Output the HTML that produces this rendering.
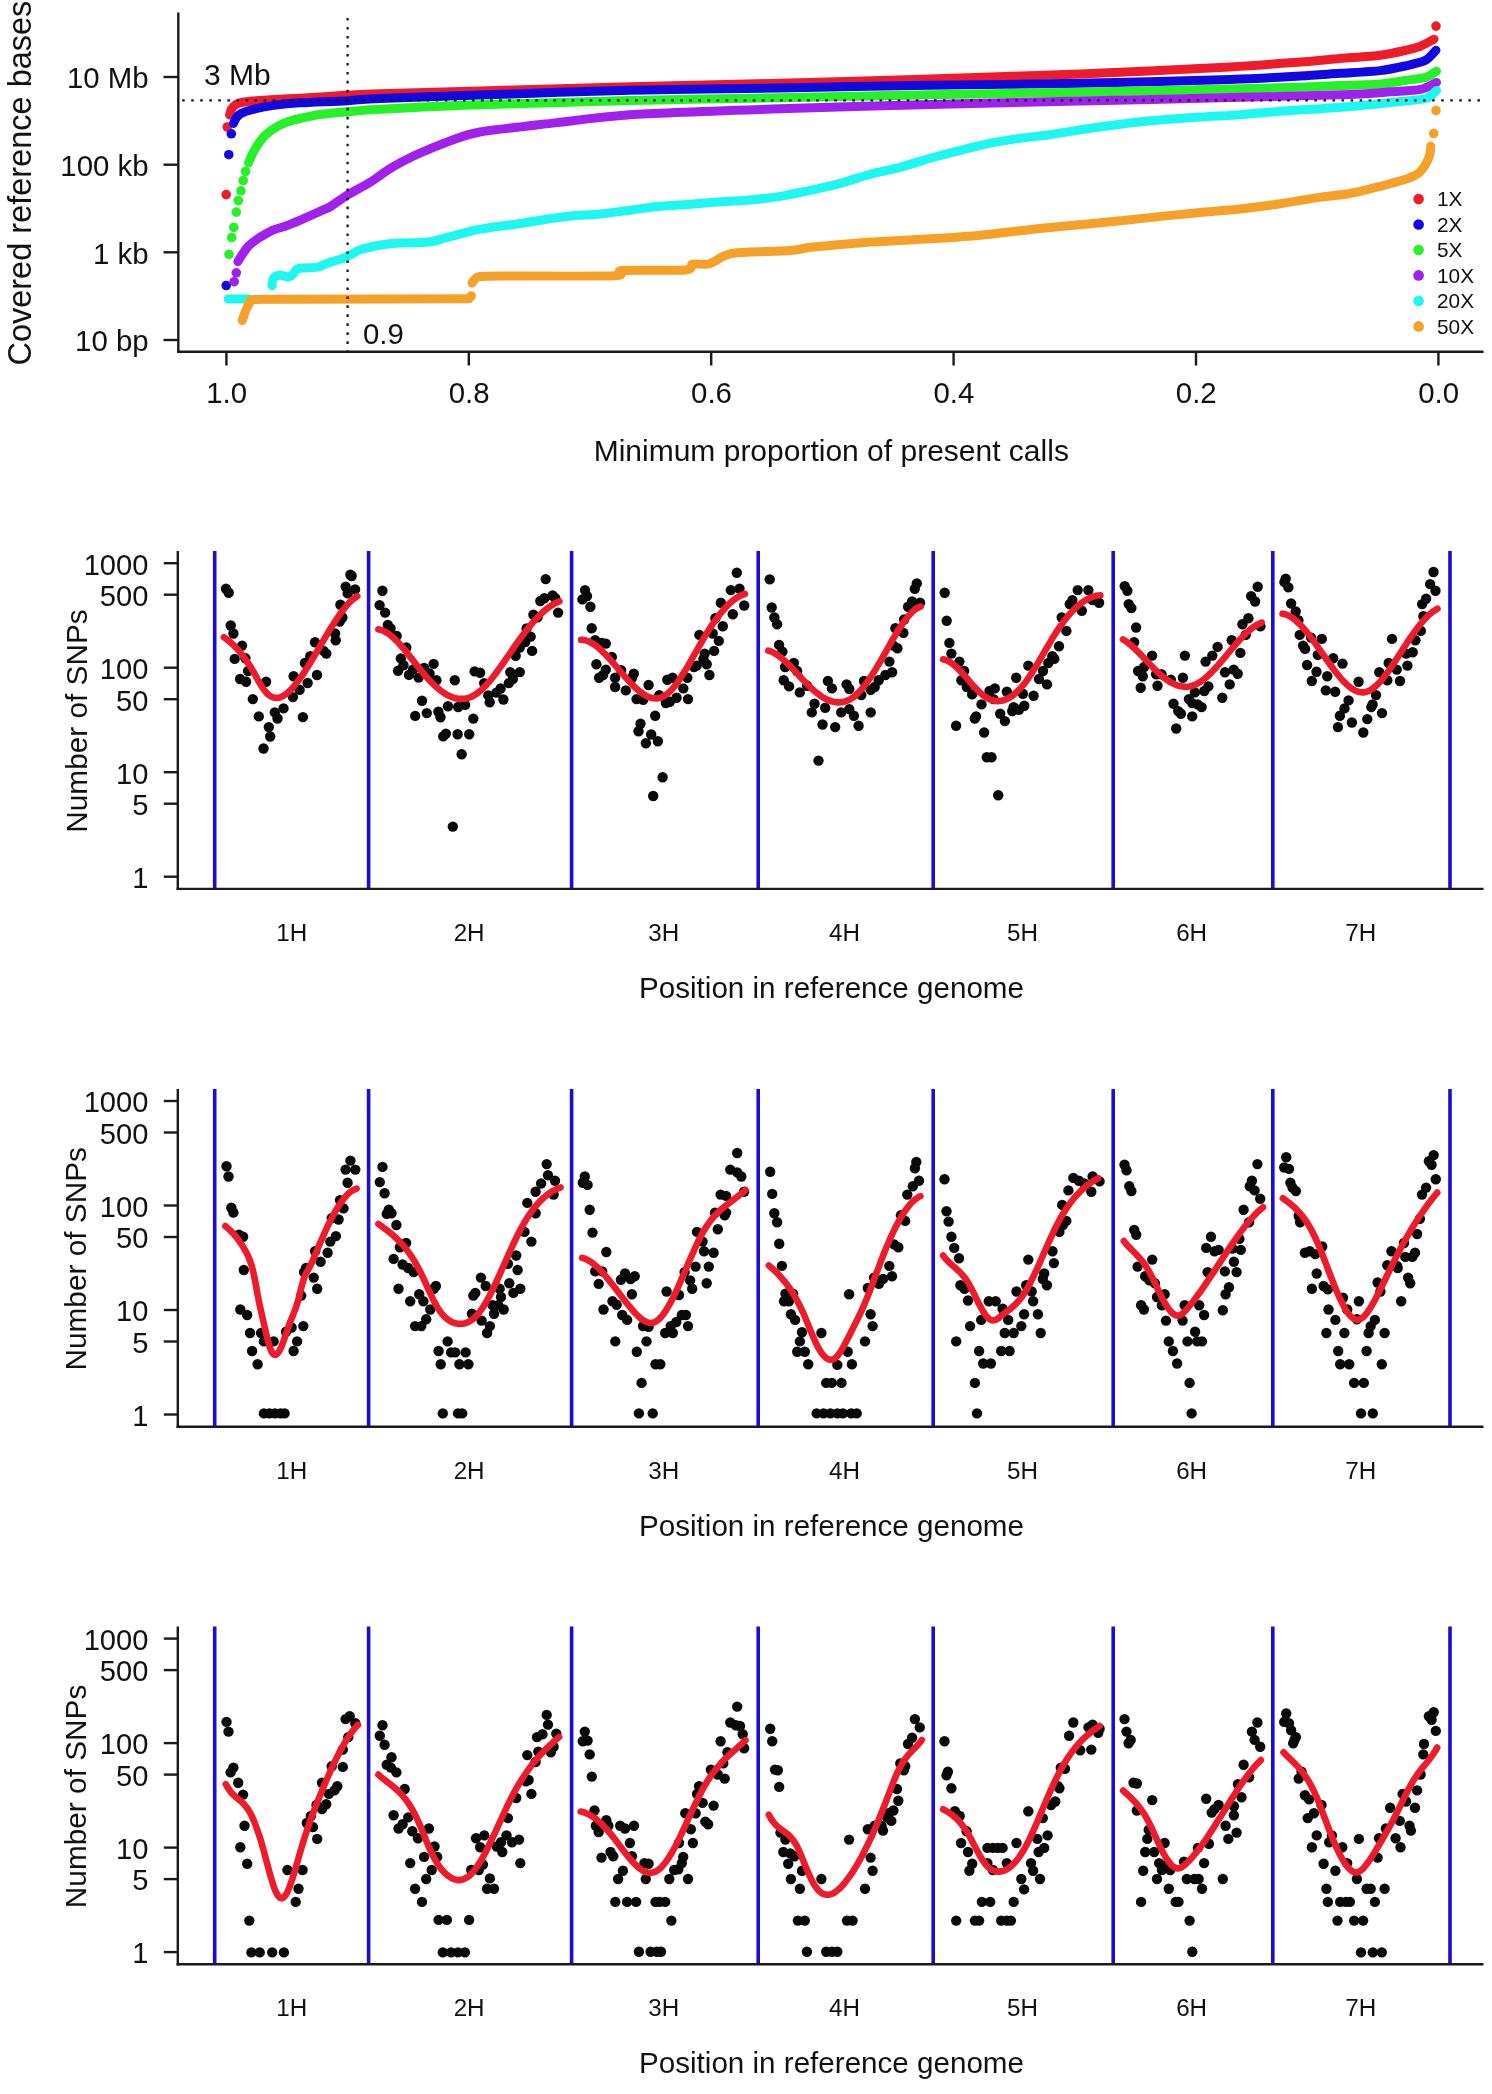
<!DOCTYPE html>
<html><head><meta charset="utf-8"><style>
html,body{margin:0;padding:0;background:#fff;}
svg{display:block;filter:blur(0.5px);}
text{font-family:"Liberation Sans", sans-serif;}
</style></head><body>
<svg xmlns="http://www.w3.org/2000/svg" width="1492" height="2094" viewBox="0 0 1492 2094">
<rect width="1492" height="2094" fill="#fff"/>
<path d="M229.5,115 C229.8,114.2 230.6,110.4 231.5,109 C232.4,107.6 234.7,105.4 236,104.5 C237.3,103.6 239.5,102.9 241.4,102.5 C243.3,102.1 247.5,101.6 250,101.3 C252.5,101 256.2,100.8 260.2,100.5 C264.2,100.2 274.7,99.5 280,99.2 C285.3,98.9 291,98.8 300,98.3 C309,97.8 336.9,95.7 347.6,95.1 C358.3,94.5 362.3,94.2 380,93.7 C397.7,93.2 446.7,91.9 480,91 C513.3,90.1 590,87.7 630,86.7 C670,85.7 740,84.2 780,83.2 C820,82.2 890,80.1 930,78.9 C970,77.7 1040,75.6 1080,74 C1120,72.4 1200.7,68.5 1230,66.9 C1259.3,65.3 1285.3,63.1 1300,62 C1314.7,60.9 1329.3,59.4 1340,58.5 C1350.7,57.6 1371.3,56.3 1380,55.2 C1388.7,54.1 1399.6,51.7 1405,50.5 C1410.4,49.3 1416.5,47.7 1420.4,46.2 C1424.3,44.7 1432.2,40.1 1434,39.2" fill="none" stroke="#ee1c2a" stroke-width="9" stroke-linejoin="round" stroke-linecap="round"/>
<g fill="#ee1c2a">
<circle cx="226.2" cy="194.6" r="4.8"/>
<circle cx="227.2" cy="127" r="4.8"/>
<circle cx="1436" cy="26.1" r="4.8"/>
</g>
<path d="M233.4,123.5 C233.8,122.7 235.4,118.9 236.5,117.5 C237.6,116.1 239.3,114.3 241.4,113.2 C243.5,112.1 247.9,110.6 252.2,109.6 C256.5,108.6 267.2,106.3 273.6,105.4 C280,104.5 290.1,103.4 300,102.8 C309.9,102.2 336.9,101.3 347.6,100.7 C358.3,100.1 362.3,99.1 380,98.4 C397.7,97.7 446.7,96.2 480,95.1 C513.3,94 590,91.1 630,90.2 C670,89.3 740,88.7 780,88 C820,87.3 890,85.9 930,85.3 C970,84.7 1040,84.1 1080,83.3 C1120,82.5 1200.7,80.4 1230,79.4 C1259.3,78.4 1285.3,76.8 1300,76 C1314.7,75.2 1329.3,74 1340,73.3 C1350.7,72.6 1371.3,71.6 1380,70.6 C1388.7,69.6 1398.9,67.4 1405,66 C1411.1,64.6 1421.4,62.4 1425.5,60.3 C1429.6,58.2 1434.6,51.5 1436,50.2" fill="none" stroke="#1408e0" stroke-width="9" stroke-linejoin="round" stroke-linecap="round"/>
<g fill="#1408e0">
<circle cx="226.2" cy="285.5" r="4.8"/>
<circle cx="228.8" cy="154.7" r="4.8"/>
<circle cx="231.3" cy="133.8" r="4.8"/>
</g>
<path d="M248.5,163 C248.9,162.1 250.7,157.8 251.5,156 C252.3,154.2 253.8,151.2 254.8,149.5 C255.8,147.8 257.7,144.8 259,143 C260.3,141.2 262.5,137.9 264.5,136 C266.5,134.1 271,130.4 274,128.5 C277,126.6 283.5,123.3 287,122 C290.5,120.7 295.6,119.5 300,118.5 C304.4,117.5 313.7,115.4 320,114.5 C326.3,113.6 339.6,112.4 347.6,111.7 C355.6,111 362.3,110.1 380,109.2 C397.7,108.3 446.7,105.9 480,104.8 C513.3,103.7 590,101.5 630,100.6 C670,99.7 740,98.5 780,97.7 C820,96.9 890,95.4 930,94.7 C970,94 1040,93 1080,92.2 C1120,91.4 1200.7,89.7 1230,89 C1259.3,88.3 1285.3,87.8 1300,87.3 C1314.7,86.8 1329.3,86 1340,85.6 C1350.7,85.2 1371.3,84.8 1380,84.1 C1388.7,83.4 1398.9,81.4 1405,80.5 C1411.1,79.6 1421.3,78.6 1425.5,77.4 C1429.7,76.2 1435,72.1 1436.5,71.3" fill="none" stroke="#26f026" stroke-width="9" stroke-linejoin="round" stroke-linecap="round"/>
<g fill="#26f026">
<circle cx="229" cy="254.3" r="4.8"/>
<circle cx="231.8" cy="237.5" r="4.8"/>
<circle cx="233.8" cy="227.4" r="4.8"/>
<circle cx="236.3" cy="212.1" r="4.8"/>
<circle cx="238.3" cy="200.5" r="4.8"/>
<circle cx="241" cy="190.8" r="4.8"/>
<circle cx="243.2" cy="180.5" r="4.8"/>
<circle cx="245.5" cy="171.5" r="4.8"/>
</g>
<path d="M237.9,261.6 C238.6,260.4 242.1,254.7 243.5,252.7 C244.9,250.7 246.5,248.1 248.3,246.3 C250.1,244.5 254.9,240.7 257.2,239.1 C259.5,237.5 262.8,235.5 265.2,234.2 C267.6,232.9 272.2,230.5 274.9,229.4 C277.6,228.3 282.8,227.1 285.3,226.2 C287.8,225.3 290.7,224.1 293.4,223 C296.1,221.9 301.7,219.5 305.4,217.8 C309.1,216.1 318.2,212.1 321.5,210.6 C324.8,209.1 326.6,208.9 330,206.8 C333.4,204.7 342,198.4 347.3,195.1 C352.6,191.8 364.3,185.8 370,182.3 C375.7,178.8 384.7,171.9 390,168.6 C395.3,165.3 404.7,160.3 410,157.7 C415.3,155.1 424.7,151.1 430,148.9 C435.3,146.7 443.3,143.2 450,140.9 C456.7,138.6 466,134.4 480,132 C494,129.6 535,125.2 555,122.9 C575,120.6 600,116.6 630,114.7 C660,112.8 740,110.2 780,108.8 C820,107.4 890,105.5 930,104.5 C970,103.5 1040,101.9 1080,101 C1120,100.1 1194,98.5 1230,97.6 C1266,96.7 1328.6,95.3 1350,94.5 C1371.4,93.7 1380.9,92.5 1390.3,91.8 C1399.7,91.1 1414.2,90.7 1420.4,89.4 C1426.6,88.1 1434.4,83.3 1436.5,82.4" fill="none" stroke="#a020ec" stroke-width="9" stroke-linejoin="round" stroke-linecap="round"/>
<g fill="#a020ec">
<circle cx="234.2" cy="281.7" r="4.8"/>
<circle cx="236.3" cy="272.8" r="4.8"/>
</g>
<polyline points="228.2,299 249,299" fill="none" stroke="#1cf8f0" stroke-width="9" stroke-linejoin="round" stroke-linecap="round"/>
<path d="M272,285.7 C272.2,284.7 272.3,279.9 273.3,278.5 C274.3,277.1 277.6,275.5 279.7,275.3 C281.8,275.1 287.5,277.1 289.3,276.9 C291.1,276.7 292.3,274.7 293.4,273.6 C294.5,272.5 295.8,269.5 297.4,268.8 C299,268.1 302.7,268.2 305.4,268 C308.1,267.8 314.8,267.7 317.5,267.2 C320.2,266.7 322.8,265 325.5,264 C328.2,263 335,260.9 337.6,260 C340.2,259.1 343.1,258.4 345,257.6 C346.9,256.8 349.9,255.1 352,254 C354.1,252.9 357.1,250.7 361,249.5 C364.9,248.3 375.8,245.9 381,245 C386.2,244.1 394.8,243.3 400,243 C405.2,242.7 415.7,242.7 420,242.5 C424.3,242.3 428,242.3 432,241.5 C436,240.7 443.6,238.2 450,236.6 C456.4,235 471.5,230.9 480.2,229.2 C488.9,227.5 507.3,225.4 515.3,224.2 C523.3,223 533.1,221.3 540.5,220.2 C547.9,219.1 562.7,216.9 570.6,216.1 C578.5,215.3 592.1,214.8 600,214 C607.9,213.2 622.2,211.2 630.2,210.2 C638.2,209.2 652.3,207 660.3,206.2 C668.3,205.4 682.5,204.8 690.5,204.2 C698.5,203.6 712.7,202.3 720.6,201.7 C728.5,201.1 742.1,200.7 750,200 C757.9,199.3 772.2,197.7 780.2,196.4 C788.2,195.1 802.3,192 810.3,190.3 C818.3,188.6 832.5,185.4 840.5,183.3 C848.5,181.2 862.7,176.3 870.6,174.2 C878.5,172.1 892.1,169.4 900,167.3 C907.9,165.2 922.2,160.6 930.2,158.3 C938.2,156 952.3,152.3 960.3,150.3 C968.3,148.3 982.5,144.8 990.5,143.2 C998.5,141.6 1012.7,139.3 1020.6,138.2 C1028.5,137.1 1040.7,136 1050,134.7 C1059.3,133.4 1080.8,129.6 1090.2,128.2 C1099.6,126.8 1112.4,125.2 1120.4,124.2 C1128.4,123.2 1139.9,121.6 1150.5,120.7 C1161.1,119.8 1188,117.9 1200,117.1 C1212,116.3 1229.5,115.5 1240.2,114.7 C1250.9,113.9 1269.7,112 1280.4,111.2 C1291.1,110.4 1311.3,109.3 1320.6,108.7 C1329.9,108.1 1340.7,107.4 1350,106.6 C1359.3,105.8 1380.2,103.6 1390.3,102.5 C1400.4,101.4 1419.3,100.1 1425.5,98.5 C1431.7,96.9 1435,91.5 1436.5,90.4" fill="none" stroke="#1cf8f0" stroke-width="9" stroke-linejoin="round" stroke-linecap="round"/>
<g fill="#1cf8f0">
</g>
<path d="M242.3,320.4 C242.8,319 244.9,312.4 245.9,310 C246.9,307.6 248.8,304 249.9,302.6 C251,301.2 247.3,299.9 254,299.4 C260.7,298.9 271.3,299.3 300,299.2 C328.7,299.1 446.5,298.9 469,298.8" fill="none" stroke="#f6a028" stroke-width="9" stroke-linejoin="round" stroke-linecap="round"/>
<path d="M472.1,283 C472.6,282.3 474.9,278.9 476,278 C477.1,277.1 477,276.8 480.2,276.5 C483.4,276.2 482.1,276.1 500,276 C517.9,275.9 597.8,276.5 614.1,275.8 C630.4,275.1 612.6,271.3 622.1,270.5 C631.6,269.7 676.1,270.8 685.5,270 C694.9,269.2 689.4,265 692.5,264.2 C695.6,263.4 704.9,264.9 708.6,264 C712.3,263.1 717.7,259.2 720.6,257.8 C723.5,256.4 726.8,254.4 730.7,253.6 C734.6,252.8 742.1,252.4 750,252 C757.9,251.6 782.2,251.2 790.2,250.6 C798.2,250 803.6,248.1 810.3,247.3 C817,246.5 832.5,245.3 840.5,244.6 C848.5,243.9 862.7,242.7 870.6,242.1 C878.5,241.5 890.7,240.9 900,240.4 C909.3,239.9 929.5,238.9 940.2,238.2 C950.9,237.5 969.7,236.2 980.4,235.2 C991.1,234.2 1011.3,231.7 1020.6,230.7 C1029.9,229.7 1040.7,228.4 1050,227.5 C1059.3,226.6 1079.5,224.7 1090.2,223.7 C1100.9,222.7 1119.7,220.8 1130.4,219.7 C1141.1,218.6 1161.3,216.3 1170.6,215.4 C1179.9,214.5 1190.7,213.5 1200,212.6 C1209.3,211.7 1229.5,210.2 1240.2,209 C1250.9,207.8 1269.7,205.3 1280.4,203.7 C1291.1,202.1 1311.3,198.5 1320.6,197.1 C1329.9,195.7 1342,194.9 1350,193.5 C1358,192.1 1373,188.2 1380.4,186.3 C1387.8,184.4 1400.5,181 1405.6,179.3 C1410.7,177.6 1415.9,175.2 1418.6,173.2 C1421.3,171.2 1424.2,166.6 1425.7,164.2 C1427.2,161.8 1429,157.5 1429.7,155.1 C1430.4,152.7 1430.6,147.3 1430.7,146.1" fill="none" stroke="#f6a028" stroke-width="9" stroke-linejoin="round" stroke-linecap="round"/>
<g fill="#f6a028">
<circle cx="1433.7" cy="133.5" r="4.8"/>
<circle cx="1436" cy="110.5" r="4.8"/>
<circle cx="471.1" cy="296.1" r="4.8"/>
</g>
<line x1="182.1" y1="100.3" x2="1481" y2="100.3" stroke="#1a1a1a" stroke-width="2.3" stroke-dasharray="2.6 6.458"/>
<line x1="347.6" y1="18" x2="347.6" y2="351.7" stroke="#1a1a1a" stroke-width="2.3" stroke-dasharray="2.6 6.38"/>
<line x1="178.3" y1="12.6" x2="178.3" y2="352.9" stroke="#1a1a1a" stroke-width="2.4"/>
<line x1="177.1" y1="351.7" x2="1483.5" y2="351.7" stroke="#1a1a1a" stroke-width="2.4"/>
<line x1="163.5" y1="77" x2="178.3" y2="77" stroke="#1a1a1a" stroke-width="2.4"/>
<text x="148.6" y="88.2" font-size="29.4" text-anchor="end" fill="#111">10 Mb</text>
<line x1="163.5" y1="164.7" x2="178.3" y2="164.7" stroke="#1a1a1a" stroke-width="2.4"/>
<text x="148.6" y="175.9" font-size="29.4" text-anchor="end" fill="#111">100 kb</text>
<line x1="163.5" y1="252.3" x2="178.3" y2="252.3" stroke="#1a1a1a" stroke-width="2.4"/>
<text x="148.6" y="263.5" font-size="29.4" text-anchor="end" fill="#111">1 kb</text>
<line x1="163.5" y1="340" x2="178.3" y2="340" stroke="#1a1a1a" stroke-width="2.4"/>
<text x="148.6" y="351.2" font-size="29.4" text-anchor="end" fill="#111">10 bp</text>
<line x1="226.4" y1="351.7" x2="226.4" y2="365.5" stroke="#1a1a1a" stroke-width="2.4"/>
<text x="226.7" y="403.3" font-size="29.4" text-anchor="middle" fill="#111">1.0</text>
<line x1="468.8" y1="351.7" x2="468.8" y2="365.5" stroke="#1a1a1a" stroke-width="2.4"/>
<text x="469.1" y="403.3" font-size="29.4" text-anchor="middle" fill="#111">0.8</text>
<line x1="711.2" y1="351.7" x2="711.2" y2="365.5" stroke="#1a1a1a" stroke-width="2.4"/>
<text x="711.5" y="403.3" font-size="29.4" text-anchor="middle" fill="#111">0.6</text>
<line x1="953.6" y1="351.7" x2="953.6" y2="365.5" stroke="#1a1a1a" stroke-width="2.4"/>
<text x="953.9" y="403.3" font-size="29.4" text-anchor="middle" fill="#111">0.4</text>
<line x1="1196" y1="351.7" x2="1196" y2="365.5" stroke="#1a1a1a" stroke-width="2.4"/>
<text x="1196.3" y="403.3" font-size="29.4" text-anchor="middle" fill="#111">0.2</text>
<line x1="1438.4" y1="351.7" x2="1438.4" y2="365.5" stroke="#1a1a1a" stroke-width="2.4"/>
<text x="1438.7" y="403.3" font-size="29.4" text-anchor="middle" fill="#111">0.0</text>
<text x="831.3" y="460.8" font-size="30" text-anchor="middle" fill="#111">Minimum proportion of present calls</text>
<text x="31" y="183.1" font-size="32.5" text-anchor="middle" transform="rotate(-90 31 183.1)" fill="#111">Covered reference bases</text>
<text x="204" y="84.6" font-size="30" text-anchor="start" fill="#111">3 Mb</text>
<text x="362.9" y="343.5" font-size="29.4" text-anchor="start" fill="#111">0.9</text>
<g fill="#ee1c2a">
<circle cx="1418.6" cy="199.1" r="5.3"/>
</g>
<text x="1437" y="206.4" font-size="20.8" text-anchor="start" fill="#111">1X</text>
<g fill="#1408e0">
<circle cx="1418.6" cy="224.5" r="5.3"/>
</g>
<text x="1437" y="231.8" font-size="20.8" text-anchor="start" fill="#111">2X</text>
<g fill="#26f026">
<circle cx="1418.6" cy="250" r="5.3"/>
</g>
<text x="1437" y="257.3" font-size="20.8" text-anchor="start" fill="#111">5X</text>
<g fill="#a020ec">
<circle cx="1418.6" cy="275.4" r="5.3"/>
</g>
<text x="1437" y="282.8" font-size="20.8" text-anchor="start" fill="#111">10X</text>
<g fill="#1cf8f0">
<circle cx="1418.6" cy="300.9" r="5.3"/>
</g>
<text x="1437" y="308.2" font-size="20.8" text-anchor="start" fill="#111">20X</text>
<g fill="#f6a028">
<circle cx="1418.6" cy="326.4" r="5.3"/>
</g>
<text x="1437" y="333.7" font-size="20.8" text-anchor="start" fill="#111">50X</text>
<line x1="214.7" y1="551.1" x2="214.7" y2="888.9" stroke="#1c0cd8" stroke-width="3.6"/>
<line x1="368.6" y1="551.1" x2="368.6" y2="888.9" stroke="#1c0cd8" stroke-width="3.6"/>
<line x1="571.6" y1="551.1" x2="571.6" y2="888.9" stroke="#1c0cd8" stroke-width="3.6"/>
<line x1="758.2" y1="551.1" x2="758.2" y2="888.9" stroke="#1c0cd8" stroke-width="3.6"/>
<line x1="933.2" y1="551.1" x2="933.2" y2="888.9" stroke="#1c0cd8" stroke-width="3.6"/>
<line x1="1113.2" y1="551.1" x2="1113.2" y2="888.9" stroke="#1c0cd8" stroke-width="3.6"/>
<line x1="1272.8" y1="551.1" x2="1272.8" y2="888.9" stroke="#1c0cd8" stroke-width="3.6"/>
<line x1="1450" y1="551.1" x2="1450" y2="888.9" stroke="#1c0cd8" stroke-width="3.6"/>
<g fill="#0a0a0a">
<circle cx="226" cy="588.7" r="5.2"/>
<circle cx="228.7" cy="592.8" r="5.2"/>
<circle cx="230.7" cy="625.5" r="5.2"/>
<circle cx="233.4" cy="633.5" r="5.2"/>
<circle cx="242.1" cy="645.6" r="5.2"/>
<circle cx="234.7" cy="658.9" r="5.2"/>
<circle cx="245.4" cy="658.3" r="5.2"/>
<circle cx="240.1" cy="679" r="5.2"/>
<circle cx="246.1" cy="681.7" r="5.2"/>
<circle cx="248.1" cy="671" r="5.2"/>
<circle cx="266.1" cy="681.7" r="5.2"/>
<circle cx="252.8" cy="699.1" r="5.2"/>
<circle cx="258.8" cy="716.4" r="5.2"/>
<circle cx="268.8" cy="727.1" r="5.2"/>
<circle cx="270.2" cy="736.5" r="5.2"/>
<circle cx="263.5" cy="748.5" r="5.2"/>
<circle cx="274.8" cy="712.4" r="5.2"/>
<circle cx="277.5" cy="718.5" r="5.2"/>
<circle cx="283.5" cy="708.4" r="5.2"/>
<circle cx="292.9" cy="697.1" r="5.2"/>
<circle cx="293.6" cy="676.3" r="5.2"/>
<circle cx="299.6" cy="689.7" r="5.2"/>
<circle cx="307.6" cy="683" r="5.2"/>
<circle cx="304.9" cy="663" r="5.2"/>
<circle cx="310.3" cy="656.3" r="5.2"/>
<circle cx="302.9" cy="717.1" r="5.2"/>
<circle cx="315" cy="642.2" r="5.2"/>
<circle cx="317" cy="675" r="5.2"/>
<circle cx="326.3" cy="653.6" r="5.2"/>
<circle cx="323.6" cy="650.9" r="5.2"/>
<circle cx="335" cy="633.5" r="5.2"/>
<circle cx="335.7" cy="640.2" r="5.2"/>
<circle cx="342.4" cy="617.5" r="5.2"/>
<circle cx="339.7" cy="621.5" r="5.2"/>
<circle cx="340.4" cy="604.8" r="5.2"/>
<circle cx="345.7" cy="586.7" r="5.2"/>
<circle cx="351.7" cy="576" r="5.2"/>
<circle cx="355.1" cy="589.4" r="5.2"/>
<circle cx="347.7" cy="593.4" r="5.2"/>
<circle cx="350.4" cy="574.7" r="5.2"/>
<circle cx="382.4" cy="590.8" r="5.2"/>
<circle cx="379.6" cy="605.1" r="5.2"/>
<circle cx="385.1" cy="612.6" r="5.2"/>
<circle cx="387.8" cy="624.9" r="5.2"/>
<circle cx="390.6" cy="628.4" r="5.2"/>
<circle cx="396.7" cy="635.9" r="5.2"/>
<circle cx="406.3" cy="647.5" r="5.2"/>
<circle cx="400.8" cy="658.4" r="5.2"/>
<circle cx="398.1" cy="670.8" r="5.2"/>
<circle cx="403.5" cy="665.3" r="5.2"/>
<circle cx="409" cy="674.9" r="5.2"/>
<circle cx="413.1" cy="669.4" r="5.2"/>
<circle cx="418.6" cy="677.6" r="5.2"/>
<circle cx="424.1" cy="668" r="5.2"/>
<circle cx="429.5" cy="673.5" r="5.2"/>
<circle cx="433.6" cy="663.9" r="5.2"/>
<circle cx="436.4" cy="680.3" r="5.2"/>
<circle cx="422" cy="700.8" r="5.2"/>
<circle cx="415.2" cy="715.9" r="5.2"/>
<circle cx="426.8" cy="713.1" r="5.2"/>
<circle cx="438.4" cy="711.8" r="5.2"/>
<circle cx="440.5" cy="717.2" r="5.2"/>
<circle cx="448" cy="706.3" r="5.2"/>
<circle cx="454.8" cy="680.3" r="5.2"/>
<circle cx="458.2" cy="707" r="5.2"/>
<circle cx="465.1" cy="704.9" r="5.2"/>
<circle cx="474.6" cy="671.4" r="5.2"/>
<circle cx="480.1" cy="672.8" r="5.2"/>
<circle cx="484.2" cy="683.1" r="5.2"/>
<circle cx="473.3" cy="718.6" r="5.2"/>
<circle cx="443.2" cy="736.4" r="5.2"/>
<circle cx="445.9" cy="733.6" r="5.2"/>
<circle cx="457.6" cy="734.3" r="5.2"/>
<circle cx="469.2" cy="734.3" r="5.2"/>
<circle cx="461.7" cy="754.2" r="5.2"/>
<circle cx="452.8" cy="826.6" r="5.2"/>
<circle cx="489.7" cy="702.2" r="5.2"/>
<circle cx="488.3" cy="695.4" r="5.2"/>
<circle cx="496.5" cy="692.6" r="5.2"/>
<circle cx="503.4" cy="699.5" r="5.2"/>
<circle cx="500.6" cy="688.5" r="5.2"/>
<circle cx="508.8" cy="683.1" r="5.2"/>
<circle cx="512.9" cy="679" r="5.2"/>
<circle cx="510.2" cy="672.1" r="5.2"/>
<circle cx="519.8" cy="672.1" r="5.2"/>
<circle cx="515.7" cy="655.7" r="5.2"/>
<circle cx="519.8" cy="647.5" r="5.2"/>
<circle cx="525.2" cy="642" r="5.2"/>
<circle cx="530.7" cy="636.6" r="5.2"/>
<circle cx="526.6" cy="628.4" r="5.2"/>
<circle cx="532.1" cy="650.9" r="5.2"/>
<circle cx="533.4" cy="614.7" r="5.2"/>
<circle cx="540.3" cy="601" r="5.2"/>
<circle cx="544.4" cy="598.3" r="5.2"/>
<circle cx="552.6" cy="595.5" r="5.2"/>
<circle cx="555.3" cy="598.3" r="5.2"/>
<circle cx="558.1" cy="612.6" r="5.2"/>
<circle cx="545.7" cy="579.1" r="5.2"/>
<circle cx="537.5" cy="617.4" r="5.2"/>
<circle cx="585" cy="590.1" r="5.2"/>
<circle cx="587" cy="596.1" r="5.2"/>
<circle cx="582.4" cy="599.4" r="5.2"/>
<circle cx="590.4" cy="606.8" r="5.2"/>
<circle cx="591.7" cy="628.2" r="5.2"/>
<circle cx="595.1" cy="640.2" r="5.2"/>
<circle cx="605.8" cy="643.6" r="5.2"/>
<circle cx="601.8" cy="642.9" r="5.2"/>
<circle cx="611.8" cy="656.9" r="5.2"/>
<circle cx="596.4" cy="664.3" r="5.2"/>
<circle cx="605.8" cy="669.6" r="5.2"/>
<circle cx="599.1" cy="677.7" r="5.2"/>
<circle cx="603.1" cy="675" r="5.2"/>
<circle cx="621.1" cy="670.3" r="5.2"/>
<circle cx="615.1" cy="677.7" r="5.2"/>
<circle cx="615.1" cy="687" r="5.2"/>
<circle cx="625.8" cy="690.4" r="5.2"/>
<circle cx="633.8" cy="673.7" r="5.2"/>
<circle cx="631.8" cy="678.3" r="5.2"/>
<circle cx="648.6" cy="685" r="5.2"/>
<circle cx="636.5" cy="699.1" r="5.2"/>
<circle cx="643.2" cy="699.7" r="5.2"/>
<circle cx="659.3" cy="695.1" r="5.2"/>
<circle cx="667.3" cy="679.7" r="5.2"/>
<circle cx="672.6" cy="677.7" r="5.2"/>
<circle cx="665.9" cy="703.1" r="5.2"/>
<circle cx="669.9" cy="701.7" r="5.2"/>
<circle cx="676.6" cy="697.7" r="5.2"/>
<circle cx="683.3" cy="688.4" r="5.2"/>
<circle cx="687.3" cy="677.7" r="5.2"/>
<circle cx="688" cy="699.1" r="5.2"/>
<circle cx="655.2" cy="715.8" r="5.2"/>
<circle cx="640.5" cy="723.8" r="5.2"/>
<circle cx="638.5" cy="731.2" r="5.2"/>
<circle cx="651.2" cy="734.5" r="5.2"/>
<circle cx="645.9" cy="743.2" r="5.2"/>
<circle cx="657.9" cy="741.2" r="5.2"/>
<circle cx="662.6" cy="777.3" r="5.2"/>
<circle cx="653.2" cy="796" r="5.2"/>
<circle cx="694" cy="667" r="5.2"/>
<circle cx="696.7" cy="665.6" r="5.2"/>
<circle cx="704.7" cy="653.6" r="5.2"/>
<circle cx="706.7" cy="664.3" r="5.2"/>
<circle cx="703.4" cy="658.9" r="5.2"/>
<circle cx="709.4" cy="675" r="5.2"/>
<circle cx="714.1" cy="650.9" r="5.2"/>
<circle cx="718.8" cy="640.9" r="5.2"/>
<circle cx="712.7" cy="633.5" r="5.2"/>
<circle cx="699.4" cy="634.9" r="5.2"/>
<circle cx="722.8" cy="626.2" r="5.2"/>
<circle cx="715.4" cy="618.2" r="5.2"/>
<circle cx="720.8" cy="602.8" r="5.2"/>
<circle cx="732.8" cy="614.2" r="5.2"/>
<circle cx="744.2" cy="605.5" r="5.2"/>
<circle cx="730.8" cy="590.1" r="5.2"/>
<circle cx="739.5" cy="588.7" r="5.2"/>
<circle cx="736.8" cy="572.7" r="5.2"/>
<circle cx="769.7" cy="579.4" r="5.2"/>
<circle cx="771.7" cy="607.5" r="5.2"/>
<circle cx="774.4" cy="617.5" r="5.2"/>
<circle cx="777.1" cy="624.2" r="5.2"/>
<circle cx="779.1" cy="644.9" r="5.2"/>
<circle cx="782.4" cy="651.6" r="5.2"/>
<circle cx="793.8" cy="663" r="5.2"/>
<circle cx="785.1" cy="667" r="5.2"/>
<circle cx="783.7" cy="680.3" r="5.2"/>
<circle cx="789.1" cy="686.4" r="5.2"/>
<circle cx="797.1" cy="671" r="5.2"/>
<circle cx="799.8" cy="692.4" r="5.2"/>
<circle cx="807.1" cy="685.7" r="5.2"/>
<circle cx="827.9" cy="681" r="5.2"/>
<circle cx="831.9" cy="688.4" r="5.2"/>
<circle cx="846.6" cy="684.4" r="5.2"/>
<circle cx="849.3" cy="689" r="5.2"/>
<circle cx="814.5" cy="703.7" r="5.2"/>
<circle cx="811.8" cy="712.4" r="5.2"/>
<circle cx="825.2" cy="707.8" r="5.2"/>
<circle cx="822.5" cy="724.5" r="5.2"/>
<circle cx="835.2" cy="727.1" r="5.2"/>
<circle cx="841.2" cy="712.4" r="5.2"/>
<circle cx="849.3" cy="709.1" r="5.2"/>
<circle cx="853.9" cy="715.8" r="5.2"/>
<circle cx="858.6" cy="725.8" r="5.2"/>
<circle cx="870.7" cy="712.4" r="5.2"/>
<circle cx="818.5" cy="760.6" r="5.2"/>
<circle cx="861.3" cy="695.1" r="5.2"/>
<circle cx="864" cy="681" r="5.2"/>
<circle cx="870.7" cy="689.7" r="5.2"/>
<circle cx="874.7" cy="687" r="5.2"/>
<circle cx="878.7" cy="680.3" r="5.2"/>
<circle cx="885.4" cy="675" r="5.2"/>
<circle cx="889.4" cy="661.6" r="5.2"/>
<circle cx="892.1" cy="672.3" r="5.2"/>
<circle cx="897.4" cy="648.3" r="5.2"/>
<circle cx="893.4" cy="645.6" r="5.2"/>
<circle cx="895.4" cy="628.2" r="5.2"/>
<circle cx="903.4" cy="632.9" r="5.2"/>
<circle cx="904.1" cy="619.5" r="5.2"/>
<circle cx="908.1" cy="606.8" r="5.2"/>
<circle cx="912.1" cy="601.5" r="5.2"/>
<circle cx="920.1" cy="602.8" r="5.2"/>
<circle cx="914.8" cy="588.7" r="5.2"/>
<circle cx="916.8" cy="583.4" r="5.2"/>
<circle cx="944.7" cy="592.8" r="5.2"/>
<circle cx="946.7" cy="620.8" r="5.2"/>
<circle cx="949.4" cy="642.9" r="5.2"/>
<circle cx="951.4" cy="653.6" r="5.2"/>
<circle cx="959.4" cy="661.6" r="5.2"/>
<circle cx="964.1" cy="671" r="5.2"/>
<circle cx="961.4" cy="680.3" r="5.2"/>
<circle cx="966.8" cy="687" r="5.2"/>
<circle cx="972.1" cy="694.4" r="5.2"/>
<circle cx="981.5" cy="704.4" r="5.2"/>
<circle cx="976.1" cy="716.4" r="5.2"/>
<circle cx="974.8" cy="718.5" r="5.2"/>
<circle cx="956.1" cy="725.8" r="5.2"/>
<circle cx="984.1" cy="732.5" r="5.2"/>
<circle cx="986.8" cy="757.2" r="5.2"/>
<circle cx="991.5" cy="757.2" r="5.2"/>
<circle cx="998.2" cy="795.3" r="5.2"/>
<circle cx="989.5" cy="691" r="5.2"/>
<circle cx="994.8" cy="688.4" r="5.2"/>
<circle cx="993.5" cy="699.1" r="5.2"/>
<circle cx="1000.2" cy="713.8" r="5.2"/>
<circle cx="1004.9" cy="721.1" r="5.2"/>
<circle cx="1006.9" cy="691.7" r="5.2"/>
<circle cx="1012.2" cy="711.1" r="5.2"/>
<circle cx="1013.6" cy="707.1" r="5.2"/>
<circle cx="1018.9" cy="709.8" r="5.2"/>
<circle cx="1024.3" cy="705.7" r="5.2"/>
<circle cx="1022.9" cy="693.7" r="5.2"/>
<circle cx="1016.2" cy="677.7" r="5.2"/>
<circle cx="1028.3" cy="665.6" r="5.2"/>
<circle cx="1033.6" cy="695.7" r="5.2"/>
<circle cx="1039" cy="679" r="5.2"/>
<circle cx="1043" cy="671" r="5.2"/>
<circle cx="1047" cy="684.4" r="5.2"/>
<circle cx="1048.3" cy="663" r="5.2"/>
<circle cx="1052.3" cy="656.3" r="5.2"/>
<circle cx="1054.3" cy="658.9" r="5.2"/>
<circle cx="1059" cy="646.2" r="5.2"/>
<circle cx="1066.4" cy="630.9" r="5.2"/>
<circle cx="1061.7" cy="617.5" r="5.2"/>
<circle cx="1069.7" cy="604.1" r="5.2"/>
<circle cx="1072.4" cy="600.1" r="5.2"/>
<circle cx="1077.7" cy="590.1" r="5.2"/>
<circle cx="1081.8" cy="610.8" r="5.2"/>
<circle cx="1088.4" cy="590.1" r="5.2"/>
<circle cx="1092.5" cy="600.1" r="5.2"/>
<circle cx="1099.1" cy="602.8" r="5.2"/>
<circle cx="1124.7" cy="586.1" r="5.2"/>
<circle cx="1127.4" cy="590.8" r="5.2"/>
<circle cx="1128.7" cy="604.1" r="5.2"/>
<circle cx="1131.4" cy="608.1" r="5.2"/>
<circle cx="1136.1" cy="627.5" r="5.2"/>
<circle cx="1134.1" cy="642.2" r="5.2"/>
<circle cx="1152.1" cy="655.6" r="5.2"/>
<circle cx="1138.1" cy="671" r="5.2"/>
<circle cx="1144.1" cy="667" r="5.2"/>
<circle cx="1142.8" cy="676.3" r="5.2"/>
<circle cx="1140.7" cy="687.7" r="5.2"/>
<circle cx="1156.1" cy="674.3" r="5.2"/>
<circle cx="1161.5" cy="674.3" r="5.2"/>
<circle cx="1157.5" cy="685.7" r="5.2"/>
<circle cx="1170.8" cy="679.7" r="5.2"/>
<circle cx="1184.9" cy="655.6" r="5.2"/>
<circle cx="1182.9" cy="677.7" r="5.2"/>
<circle cx="1173.5" cy="703.7" r="5.2"/>
<circle cx="1178.2" cy="711.1" r="5.2"/>
<circle cx="1180.9" cy="713.8" r="5.2"/>
<circle cx="1176.2" cy="728.5" r="5.2"/>
<circle cx="1188.9" cy="699.1" r="5.2"/>
<circle cx="1192.2" cy="703.1" r="5.2"/>
<circle cx="1197.6" cy="704.4" r="5.2"/>
<circle cx="1201.6" cy="707.1" r="5.2"/>
<circle cx="1192.2" cy="716.4" r="5.2"/>
<circle cx="1194.9" cy="692.4" r="5.2"/>
<circle cx="1204.3" cy="691" r="5.2"/>
<circle cx="1208.3" cy="686.4" r="5.2"/>
<circle cx="1205.6" cy="661.6" r="5.2"/>
<circle cx="1212.3" cy="655.6" r="5.2"/>
<circle cx="1217.6" cy="646.9" r="5.2"/>
<circle cx="1222.3" cy="697.7" r="5.2"/>
<circle cx="1225" cy="672.3" r="5.2"/>
<circle cx="1229.7" cy="684.4" r="5.2"/>
<circle cx="1233.7" cy="669.6" r="5.2"/>
<circle cx="1237.7" cy="673.7" r="5.2"/>
<circle cx="1231.7" cy="640.2" r="5.2"/>
<circle cx="1240.4" cy="652.9" r="5.2"/>
<circle cx="1242.4" cy="624.2" r="5.2"/>
<circle cx="1248.4" cy="618.2" r="5.2"/>
<circle cx="1245.7" cy="634.9" r="5.2"/>
<circle cx="1260.4" cy="626.2" r="5.2"/>
<circle cx="1251.1" cy="596.1" r="5.2"/>
<circle cx="1255.1" cy="601.5" r="5.2"/>
<circle cx="1257.7" cy="586.7" r="5.2"/>
<circle cx="1285.7" cy="578.7" r="5.2"/>
<circle cx="1284.4" cy="582.1" r="5.2"/>
<circle cx="1288.4" cy="587.4" r="5.2"/>
<circle cx="1291.1" cy="603.5" r="5.2"/>
<circle cx="1295.7" cy="611.5" r="5.2"/>
<circle cx="1298.4" cy="620.2" r="5.2"/>
<circle cx="1299.7" cy="634.9" r="5.2"/>
<circle cx="1303.1" cy="645.6" r="5.2"/>
<circle cx="1305.1" cy="648.9" r="5.2"/>
<circle cx="1311.1" cy="637.6" r="5.2"/>
<circle cx="1321.8" cy="638.9" r="5.2"/>
<circle cx="1307.1" cy="665" r="5.2"/>
<circle cx="1316.5" cy="671.7" r="5.2"/>
<circle cx="1311.8" cy="681" r="5.2"/>
<circle cx="1327.2" cy="676.3" r="5.2"/>
<circle cx="1317.8" cy="654.9" r="5.2"/>
<circle cx="1333.2" cy="658.3" r="5.2"/>
<circle cx="1342.5" cy="663.6" r="5.2"/>
<circle cx="1325.8" cy="690.4" r="5.2"/>
<circle cx="1335.2" cy="691.7" r="5.2"/>
<circle cx="1348.6" cy="700.4" r="5.2"/>
<circle cx="1344.5" cy="708.4" r="5.2"/>
<circle cx="1339.9" cy="715.8" r="5.2"/>
<circle cx="1337.9" cy="727.1" r="5.2"/>
<circle cx="1351.9" cy="722.5" r="5.2"/>
<circle cx="1358.6" cy="681.7" r="5.2"/>
<circle cx="1363.3" cy="732.5" r="5.2"/>
<circle cx="1367.3" cy="719.1" r="5.2"/>
<circle cx="1371.3" cy="707.1" r="5.2"/>
<circle cx="1372.6" cy="704.4" r="5.2"/>
<circle cx="1376" cy="695.1" r="5.2"/>
<circle cx="1382" cy="713.1" r="5.2"/>
<circle cx="1379.3" cy="672.3" r="5.2"/>
<circle cx="1388.7" cy="663" r="5.2"/>
<circle cx="1387.3" cy="680.3" r="5.2"/>
<circle cx="1392" cy="638.9" r="5.2"/>
<circle cx="1396.7" cy="669.6" r="5.2"/>
<circle cx="1400" cy="681" r="5.2"/>
<circle cx="1407.4" cy="665.6" r="5.2"/>
<circle cx="1406.1" cy="653.6" r="5.2"/>
<circle cx="1412.7" cy="652.3" r="5.2"/>
<circle cx="1415.4" cy="640.2" r="5.2"/>
<circle cx="1420.8" cy="630.9" r="5.2"/>
<circle cx="1423.4" cy="616.2" r="5.2"/>
<circle cx="1422.1" cy="604.1" r="5.2"/>
<circle cx="1426.1" cy="598.8" r="5.2"/>
<circle cx="1430.1" cy="584.1" r="5.2"/>
<circle cx="1435.5" cy="590.8" r="5.2"/>
<circle cx="1433.5" cy="572" r="5.2"/>
</g>
<polyline points="223.9,637.2 225.9,638.6 227.9,640.2 230,641.9 232,643.7 234,645.6 236,647.6 238,649.8 240.1,652.2 242.1,654.7 244.1,657.3 246.1,660.1 248.1,663.1 250.2,666.3 252.2,669.6 254.2,673.2 256.2,676.8 258.2,680.5 260.3,684 262.3,687.3 264.3,690.2 266.3,692.6 268.3,694.6 270.4,696.1 272.4,697.1 274.4,697.7 276.4,697.9 278.4,697.7 280.5,697.2 282.5,696.3 284.5,695.2 286.5,693.7 288.5,692 290.6,690 292.6,687.9 294.6,685.5 296.6,683 298.6,680.4 300.6,677.6 302.7,674.7 304.7,671.6 306.7,668.5 308.7,665.3 310.7,662 312.8,658.6 314.8,655.2 316.8,651.8 318.8,648.3 320.8,644.9 322.9,641.4 324.9,638 326.9,634.6 328.9,631.2 330.9,627.9 333,624.7 335,621.5 337,618.5 339,615.5 341,612.7 343.1,610 345.1,607.5 347.1,605.1 349.1,602.9 351.1,600.9 353.2,599.1 355.2,597.6 357.2,596.2" fill="none" stroke="#ec1c2c" stroke-width="6.6" stroke-linejoin="round" stroke-linecap="round"/>
<polyline points="378.3,629.3 380.3,629.8 382.3,630.4 384.3,631.3 386.3,632.4 388.4,633.7 390.4,635.2 392.4,636.9 394.4,638.7 396.4,640.7 398.4,642.8 400.4,645 402.4,647.3 404.5,649.6 406.5,652.1 408.5,654.6 410.5,657.1 412.5,659.7 414.5,662.3 416.5,664.8 418.5,667.4 420.6,669.9 422.6,672.4 424.6,674.8 426.6,677.1 428.6,679.3 430.6,681.5 432.6,683.5 434.6,685.5 436.7,687.3 438.7,689 440.7,690.6 442.7,692.1 444.7,693.4 446.7,694.6 448.7,695.7 450.7,696.6 452.8,697.4 454.8,698 456.8,698.5 458.8,698.8 460.8,698.9 462.8,698.9 464.8,698.7 466.8,698.3 468.9,697.7 470.9,697 472.9,696 474.9,694.9 476.9,693.5 478.9,692 480.9,690.3 482.9,688.4 484.9,686.4 487,684.2 489,681.9 491,679.5 493,677 495,674.4 497,671.7 499,668.9 501,666.1 503.1,663.3 505.1,660.4 507.1,657.4 509.1,654.5 511.1,651.6 513.1,648.6 515.1,645.7 517.1,642.9 519.2,640 521.2,637.3 523.2,634.6 525.2,631.9 527.2,629.4 529.2,626.8 531.2,624.4 533.2,622.1 535.3,619.8 537.3,617.6 539.3,615.6 541.3,613.6 543.3,611.8 545.3,610 547.3,608.4 549.3,606.9 551.4,605.5 553.4,604.3 555.4,603.2 557.4,602.2 559.4,601.4" fill="none" stroke="#ec1c2c" stroke-width="6.6" stroke-linejoin="round" stroke-linecap="round"/>
<polyline points="581.1,639.8 583.1,639.9 585.1,640.3 587.2,640.9 589.2,641.7 591.2,642.7 593.2,643.9 595.3,645.3 597.3,646.8 599.3,648.5 601.3,650.4 603.3,652.3 605.4,654.3 607.4,656.5 609.4,658.7 611.4,660.9 613.5,663.3 615.5,665.6 617.5,668 619.5,670.4 621.5,672.8 623.6,675.1 625.6,677.4 627.6,679.7 629.6,681.9 631.7,684 633.7,686.1 635.7,688 637.7,689.8 639.7,691.5 641.8,693 643.8,694.4 645.8,695.6 647.8,696.6 649.9,697.4 651.9,698 653.9,698.3 655.9,698.4 657.9,698.3 660,697.9 662,697.2 664,696.1 666,694.8 668.1,693.2 670.1,691.3 672.1,689.2 674.1,686.8 676.1,684.2 678.2,681.4 680.2,678.5 682.2,675.3 684.2,672.1 686.3,668.7 688.3,665.3 690.3,661.8 692.3,658.2 694.3,654.7 696.4,651.1 698.4,647.5 700.4,644 702.4,640.5 704.5,637.1 706.5,633.8 708.5,630.5 710.5,627.4 712.5,624.3 714.6,621.4 716.6,618.6 718.6,615.8 720.6,613.3 722.7,610.8 724.7,608.5 726.7,606.3 728.7,604.2 730.7,602.4 732.8,600.6 734.8,599.1 736.8,597.7 738.8,596.5 740.9,595.5 742.9,594.6 744.9,594" fill="none" stroke="#ec1c2c" stroke-width="6.6" stroke-linejoin="round" stroke-linecap="round"/>
<polyline points="768.3,650.6 770.3,651.2 772.3,652.1 774.3,653.1 776.3,654.3 778.3,655.6 780.3,657.1 782.3,658.7 784.3,660.5 786.3,662.3 788.4,664.3 790.4,666.3 792.4,668.4 794.4,670.5 796.4,672.7 798.4,674.8 800.4,677 802.4,679.2 804.4,681.3 806.4,683.4 808.4,685.4 810.4,687.4 812.4,689.2 814.4,691 816.4,692.7 818.4,694.2 820.4,695.7 822.4,697 824.4,698.2 826.5,699.3 828.5,700.2 830.5,700.9 832.5,701.6 834.5,702 836.5,702.3 838.5,702.4 840.5,702.3 842.5,702.1 844.5,701.6 846.5,701 848.5,700.1 850.5,699.1 852.5,697.8 854.5,696.3 856.5,694.5 858.5,692.6 860.5,690.4 862.5,688.1 864.6,685.6 866.6,682.9 868.6,680.1 870.6,677.1 872.6,674.1 874.6,670.9 876.6,667.6 878.6,664.3 880.6,660.8 882.6,657.4 884.6,653.8 886.6,650.3 888.6,646.8 890.6,643.2 892.6,639.7 894.6,636.3 896.6,632.9 898.6,629.7 900.6,626.6 902.7,623.6 904.7,620.7 906.7,618.1 908.7,615.7 910.7,613.5 912.7,611.5 914.7,609.8 916.7,608.5 918.7,607.4 920.7,606.7" fill="none" stroke="#ec1c2c" stroke-width="6.6" stroke-linejoin="round" stroke-linecap="round"/>
<polyline points="943,659.3 945,659.8 947,660.5 949,661.5 951.1,662.8 953.1,664.3 955.1,666 957.1,667.8 959.1,669.8 961.1,671.9 963.2,674.1 965.2,676.4 967.2,678.7 969.2,681 971.2,683.3 973.2,685.6 975.3,687.8 977.3,689.9 979.3,691.9 981.3,693.7 983.3,695.4 985.4,696.9 987.4,698.1 989.4,699.2 991.4,700 993.4,700.6 995.4,700.9 997.5,701.1 999.5,701 1001.5,700.7 1003.5,700.3 1005.5,699.6 1007.5,698.7 1009.5,697.6 1011.6,696.3 1013.6,694.8 1015.6,693.1 1017.6,691.2 1019.6,689.2 1021.6,686.9 1023.7,684.5 1025.7,681.9 1027.7,679.1 1029.7,676.2 1031.7,673.1 1033.8,669.9 1035.8,666.6 1037.8,663.3 1039.8,659.8 1041.8,656.4 1043.8,652.9 1045.8,649.4 1047.9,646 1049.9,642.6 1051.9,639.2 1053.9,635.9 1055.9,632.7 1058,629.6 1060,626.7 1062,623.8 1064,621.1 1066,618.5 1068,616 1070,613.7 1072.1,611.5 1074.1,609.4 1076.1,607.5 1078.1,605.6 1080.1,604 1082.2,602.4 1084.2,601.1 1086.2,599.8 1088.2,598.7 1090.2,597.8 1092.2,597 1094.2,596.3 1096.3,595.8 1098.3,595.5 1100.3,595.3" fill="none" stroke="#ec1c2c" stroke-width="6.6" stroke-linejoin="round" stroke-linecap="round"/>
<polyline points="1122.9,639.4 1124.9,640.6 1126.9,642 1128.9,643.6 1131,645.2 1133,647 1135,648.9 1137,650.8 1139,652.8 1141,654.9 1143,657 1145,659.2 1147.1,661.3 1149.1,663.4 1151.1,665.6 1153.1,667.6 1155.1,669.7 1157.1,671.7 1159.1,673.6 1161.1,675.4 1163.2,677.1 1165.2,678.6 1167.2,680.1 1169.2,681.4 1171.2,682.6 1173.2,683.6 1175.2,684.5 1177.3,685.3 1179.3,685.9 1181.3,686.3 1183.3,686.6 1185.3,686.7 1187.3,686.7 1189.3,686.4 1191.3,686 1193.4,685.4 1195.4,684.6 1197.4,683.6 1199.4,682.4 1201.4,681.1 1203.4,679.6 1205.4,678 1207.4,676.2 1209.5,674.3 1211.5,672.3 1213.5,670.2 1215.5,668.1 1217.5,665.8 1219.5,663.5 1221.5,661.2 1223.6,658.8 1225.6,656.4 1227.6,654 1229.6,651.5 1231.6,649.1 1233.6,646.8 1235.6,644.4 1237.6,642.1 1239.7,639.9 1241.7,637.7 1243.7,635.6 1245.7,633.6 1247.7,631.8 1249.7,630 1251.7,628.4 1253.7,626.9 1255.8,625.5 1257.8,624.4 1259.8,623.4 1261.8,622.6" fill="none" stroke="#ec1c2c" stroke-width="6.6" stroke-linejoin="round" stroke-linecap="round"/>
<polyline points="1282.5,613.7 1284.5,614.1 1286.5,614.7 1288.5,615.6 1290.6,616.7 1292.6,618 1294.6,619.5 1296.6,621.2 1298.6,623.1 1300.6,625.1 1302.6,627.3 1304.6,629.6 1306.7,632 1308.7,634.5 1310.7,637.1 1312.7,639.8 1314.7,642.6 1316.7,645.4 1318.7,648.3 1320.7,651.2 1322.8,654 1324.8,656.9 1326.8,659.8 1328.8,662.7 1330.8,665.5 1332.8,668.2 1334.8,670.9 1336.9,673.5 1338.9,676 1340.9,678.4 1342.9,680.6 1344.9,682.7 1346.9,684.6 1348.9,686.4 1350.9,687.9 1353,689.3 1355,690.4 1357,691.3 1359,691.9 1361,692.3 1363,692.4 1365,692.2 1367,691.6 1369.1,690.8 1371.1,689.7 1373.1,688.3 1375.1,686.7 1377.1,684.9 1379.1,682.8 1381.1,680.6 1383.1,678.2 1385.2,675.6 1387.2,672.9 1389.2,670.1 1391.2,667.2 1393.2,664.2 1395.2,661.1 1397.2,658 1399.3,654.9 1401.3,651.8 1403.3,648.6 1405.3,645.5 1407.3,642.4 1409.3,639.4 1411.3,636.4 1413.3,633.6 1415.4,630.8 1417.4,628 1419.4,625.4 1421.4,623 1423.4,620.6 1425.4,618.4 1427.4,616.3 1429.4,614.4 1431.5,612.7 1433.5,611.2 1435.5,609.9 1437.5,608.7" fill="none" stroke="#ec1c2c" stroke-width="6.6" stroke-linejoin="round" stroke-linecap="round"/>
<line x1="177.8" y1="551.1" x2="177.8" y2="890.1" stroke="#1a1a1a" stroke-width="2.4"/>
<line x1="176.6" y1="888.9" x2="1483.5" y2="888.9" stroke="#1a1a1a" stroke-width="2.4"/>
<line x1="163.8" y1="876.7" x2="177.8" y2="876.7" stroke="#1a1a1a" stroke-width="2.4"/>
<text x="148.4" y="888" font-size="29.1" text-anchor="end" fill="#111">1</text>
<line x1="163.8" y1="803.7" x2="177.8" y2="803.7" stroke="#1a1a1a" stroke-width="2.4"/>
<text x="148.4" y="815" font-size="29.1" text-anchor="end" fill="#111">5</text>
<line x1="163.8" y1="772.2" x2="177.8" y2="772.2" stroke="#1a1a1a" stroke-width="2.4"/>
<text x="148.4" y="783.5" font-size="29.1" text-anchor="end" fill="#111">10</text>
<line x1="163.8" y1="699.2" x2="177.8" y2="699.2" stroke="#1a1a1a" stroke-width="2.4"/>
<text x="148.4" y="710.5" font-size="29.1" text-anchor="end" fill="#111">50</text>
<line x1="163.8" y1="667.7" x2="177.8" y2="667.7" stroke="#1a1a1a" stroke-width="2.4"/>
<text x="148.4" y="679" font-size="29.1" text-anchor="end" fill="#111">100</text>
<line x1="163.8" y1="594.7" x2="177.8" y2="594.7" stroke="#1a1a1a" stroke-width="2.4"/>
<text x="148.4" y="606" font-size="29.1" text-anchor="end" fill="#111">500</text>
<line x1="163.8" y1="563.2" x2="177.8" y2="563.2" stroke="#1a1a1a" stroke-width="2.4"/>
<text x="148.4" y="574.5" font-size="29.1" text-anchor="end" fill="#111">1000</text>
<text x="291.7" y="941" font-size="24.2" text-anchor="middle" fill="#111">1H</text>
<text x="469.1" y="941" font-size="24.2" text-anchor="middle" fill="#111">2H</text>
<text x="663.8" y="941" font-size="24.2" text-anchor="middle" fill="#111">3H</text>
<text x="844.5" y="941" font-size="24.2" text-anchor="middle" fill="#111">4H</text>
<text x="1022.5" y="941" font-size="24.2" text-anchor="middle" fill="#111">5H</text>
<text x="1191.6" y="941" font-size="24.2" text-anchor="middle" fill="#111">6H</text>
<text x="1360.7" y="941" font-size="24.2" text-anchor="middle" fill="#111">7H</text>
<text x="831.5" y="998" font-size="29.6" text-anchor="middle" fill="#111">Position in reference genome</text>
<text x="86.5" y="721" font-size="29.8" text-anchor="middle" transform="rotate(-90 86.5 721)" fill="#111">Number of SNPs</text>
<line x1="214.7" y1="1088.9" x2="214.7" y2="1426.7" stroke="#1c0cd8" stroke-width="3.6"/>
<line x1="368.6" y1="1088.9" x2="368.6" y2="1426.7" stroke="#1c0cd8" stroke-width="3.6"/>
<line x1="571.6" y1="1088.9" x2="571.6" y2="1426.7" stroke="#1c0cd8" stroke-width="3.6"/>
<line x1="758.2" y1="1088.9" x2="758.2" y2="1426.7" stroke="#1c0cd8" stroke-width="3.6"/>
<line x1="933.2" y1="1088.9" x2="933.2" y2="1426.7" stroke="#1c0cd8" stroke-width="3.6"/>
<line x1="1113.2" y1="1088.9" x2="1113.2" y2="1426.7" stroke="#1c0cd8" stroke-width="3.6"/>
<line x1="1272.8" y1="1088.9" x2="1272.8" y2="1426.7" stroke="#1c0cd8" stroke-width="3.6"/>
<line x1="1450" y1="1088.9" x2="1450" y2="1426.7" stroke="#1c0cd8" stroke-width="3.6"/>
<g fill="#0a0a0a">
<circle cx="226.5" cy="1166.2" r="5.2"/>
<circle cx="228.5" cy="1176.5" r="5.2"/>
<circle cx="231.3" cy="1207.7" r="5.2"/>
<circle cx="233.4" cy="1212.6" r="5.2"/>
<circle cx="238.9" cy="1234.7" r="5.2"/>
<circle cx="243.1" cy="1236.8" r="5.2"/>
<circle cx="243.8" cy="1270" r="5.2"/>
<circle cx="240.3" cy="1309.5" r="5.2"/>
<circle cx="247.2" cy="1315" r="5.2"/>
<circle cx="250" cy="1333" r="5.2"/>
<circle cx="252.1" cy="1351" r="5.2"/>
<circle cx="257.6" cy="1364.2" r="5.2"/>
<circle cx="261.1" cy="1333" r="5.2"/>
<circle cx="263.9" cy="1341.4" r="5.2"/>
<circle cx="273.6" cy="1341.4" r="5.2"/>
<circle cx="286" cy="1331.7" r="5.2"/>
<circle cx="291.6" cy="1327.5" r="5.2"/>
<circle cx="297.1" cy="1341.4" r="5.2"/>
<circle cx="293.6" cy="1351" r="5.2"/>
<circle cx="303.3" cy="1326.1" r="5.2"/>
<circle cx="301.2" cy="1295.6" r="5.2"/>
<circle cx="306.1" cy="1268" r="5.2"/>
<circle cx="304" cy="1272.1" r="5.2"/>
<circle cx="313.7" cy="1277.6" r="5.2"/>
<circle cx="317.2" cy="1288.7" r="5.2"/>
<circle cx="315.1" cy="1251.3" r="5.2"/>
<circle cx="320.6" cy="1261.7" r="5.2"/>
<circle cx="327.6" cy="1252.7" r="5.2"/>
<circle cx="330.3" cy="1241.6" r="5.2"/>
<circle cx="335.9" cy="1236.1" r="5.2"/>
<circle cx="331.7" cy="1218.1" r="5.2"/>
<circle cx="338.6" cy="1219.5" r="5.2"/>
<circle cx="343.5" cy="1208.4" r="5.2"/>
<circle cx="340" cy="1200.1" r="5.2"/>
<circle cx="347.6" cy="1182.8" r="5.2"/>
<circle cx="345.6" cy="1169.6" r="5.2"/>
<circle cx="350.4" cy="1160.6" r="5.2"/>
<circle cx="355.3" cy="1169.6" r="5.2"/>
<circle cx="263.9" cy="1413.4" r="5.2"/>
<circle cx="269.4" cy="1413.4" r="5.2"/>
<circle cx="274.9" cy="1413.4" r="5.2"/>
<circle cx="280.5" cy="1413.4" r="5.2"/>
<circle cx="284.6" cy="1413.4" r="5.2"/>
<circle cx="382.5" cy="1166.9" r="5.2"/>
<circle cx="379.8" cy="1182.1" r="5.2"/>
<circle cx="384.6" cy="1193.2" r="5.2"/>
<circle cx="388.8" cy="1209.8" r="5.2"/>
<circle cx="386.7" cy="1213.9" r="5.2"/>
<circle cx="391.5" cy="1213.2" r="5.2"/>
<circle cx="396.4" cy="1225" r="5.2"/>
<circle cx="406.1" cy="1243" r="5.2"/>
<circle cx="399.9" cy="1247.2" r="5.2"/>
<circle cx="393.6" cy="1258.9" r="5.2"/>
<circle cx="402.6" cy="1264.5" r="5.2"/>
<circle cx="408.2" cy="1268" r="5.2"/>
<circle cx="413.7" cy="1272.1" r="5.2"/>
<circle cx="398.5" cy="1288.7" r="5.2"/>
<circle cx="419.2" cy="1294.3" r="5.2"/>
<circle cx="423.4" cy="1301.2" r="5.2"/>
<circle cx="435.9" cy="1286" r="5.2"/>
<circle cx="433.8" cy="1288.7" r="5.2"/>
<circle cx="410.2" cy="1301.2" r="5.2"/>
<circle cx="430.3" cy="1309.5" r="5.2"/>
<circle cx="426.2" cy="1319.2" r="5.2"/>
<circle cx="421.3" cy="1326.1" r="5.2"/>
<circle cx="415.1" cy="1326.1" r="5.2"/>
<circle cx="447.6" cy="1341.4" r="5.2"/>
<circle cx="438.6" cy="1351" r="5.2"/>
<circle cx="451.1" cy="1352.4" r="5.2"/>
<circle cx="455.2" cy="1352.4" r="5.2"/>
<circle cx="465.6" cy="1352.4" r="5.2"/>
<circle cx="440.7" cy="1364.2" r="5.2"/>
<circle cx="459.4" cy="1364.2" r="5.2"/>
<circle cx="468.4" cy="1364.2" r="5.2"/>
<circle cx="442.8" cy="1413.4" r="5.2"/>
<circle cx="458" cy="1413.4" r="5.2"/>
<circle cx="462.2" cy="1413.4" r="5.2"/>
<circle cx="471.9" cy="1313.7" r="5.2"/>
<circle cx="473.3" cy="1295.6" r="5.2"/>
<circle cx="475.3" cy="1292.9" r="5.2"/>
<circle cx="480.9" cy="1277.6" r="5.2"/>
<circle cx="485.7" cy="1286" r="5.2"/>
<circle cx="481.6" cy="1320.6" r="5.2"/>
<circle cx="489.9" cy="1326.1" r="5.2"/>
<circle cx="487.1" cy="1333" r="5.2"/>
<circle cx="494" cy="1313.7" r="5.2"/>
<circle cx="492.6" cy="1305.3" r="5.2"/>
<circle cx="498.2" cy="1305.3" r="5.2"/>
<circle cx="503.7" cy="1309.5" r="5.2"/>
<circle cx="501" cy="1297" r="5.2"/>
<circle cx="499.6" cy="1288.7" r="5.2"/>
<circle cx="509.3" cy="1283.2" r="5.2"/>
<circle cx="513.4" cy="1292.9" r="5.2"/>
<circle cx="520.3" cy="1288.7" r="5.2"/>
<circle cx="517.6" cy="1270" r="5.2"/>
<circle cx="516.2" cy="1255.5" r="5.2"/>
<circle cx="507.9" cy="1263.8" r="5.2"/>
<circle cx="524.5" cy="1231.9" r="5.2"/>
<circle cx="531.4" cy="1241.6" r="5.2"/>
<circle cx="535.6" cy="1213.2" r="5.2"/>
<circle cx="527.3" cy="1202.9" r="5.2"/>
<circle cx="535.6" cy="1191.8" r="5.2"/>
<circle cx="541.1" cy="1183.5" r="5.2"/>
<circle cx="548" cy="1175.2" r="5.2"/>
<circle cx="555" cy="1180.7" r="5.2"/>
<circle cx="553.6" cy="1194.6" r="5.2"/>
<circle cx="546.7" cy="1164.1" r="5.2"/>
<circle cx="584.8" cy="1176.5" r="5.2"/>
<circle cx="582.8" cy="1182.8" r="5.2"/>
<circle cx="587.6" cy="1184.9" r="5.2"/>
<circle cx="589.7" cy="1209.8" r="5.2"/>
<circle cx="592.5" cy="1232.6" r="5.2"/>
<circle cx="606.3" cy="1252" r="5.2"/>
<circle cx="595.2" cy="1271.4" r="5.2"/>
<circle cx="602.2" cy="1271.4" r="5.2"/>
<circle cx="598.7" cy="1283.9" r="5.2"/>
<circle cx="620.9" cy="1279.7" r="5.2"/>
<circle cx="625" cy="1273.5" r="5.2"/>
<circle cx="630.6" cy="1279" r="5.2"/>
<circle cx="634.7" cy="1276.3" r="5.2"/>
<circle cx="631.9" cy="1294.3" r="5.2"/>
<circle cx="612.5" cy="1301.2" r="5.2"/>
<circle cx="616.7" cy="1304.7" r="5.2"/>
<circle cx="603.5" cy="1309.5" r="5.2"/>
<circle cx="622.2" cy="1315" r="5.2"/>
<circle cx="627.1" cy="1319.9" r="5.2"/>
<circle cx="643" cy="1326.1" r="5.2"/>
<circle cx="648.6" cy="1326.8" r="5.2"/>
<circle cx="615.3" cy="1341.4" r="5.2"/>
<circle cx="646.5" cy="1341.4" r="5.2"/>
<circle cx="636.8" cy="1351.7" r="5.2"/>
<circle cx="655.5" cy="1364.2" r="5.2"/>
<circle cx="660.3" cy="1364.2" r="5.2"/>
<circle cx="641.6" cy="1382.9" r="5.2"/>
<circle cx="638.9" cy="1413.4" r="5.2"/>
<circle cx="652.7" cy="1413.4" r="5.2"/>
<circle cx="666.6" cy="1291.5" r="5.2"/>
<circle cx="679" cy="1295" r="5.2"/>
<circle cx="665.2" cy="1333" r="5.2"/>
<circle cx="670.7" cy="1326.1" r="5.2"/>
<circle cx="672.8" cy="1333" r="5.2"/>
<circle cx="676.3" cy="1322" r="5.2"/>
<circle cx="681.8" cy="1315" r="5.2"/>
<circle cx="685.9" cy="1315" r="5.2"/>
<circle cx="688" cy="1326.1" r="5.2"/>
<circle cx="690.1" cy="1280.4" r="5.2"/>
<circle cx="692.2" cy="1288.7" r="5.2"/>
<circle cx="695.6" cy="1266.6" r="5.2"/>
<circle cx="684.6" cy="1272.1" r="5.2"/>
<circle cx="704" cy="1251.3" r="5.2"/>
<circle cx="713.6" cy="1252.7" r="5.2"/>
<circle cx="708.8" cy="1266.6" r="5.2"/>
<circle cx="706.7" cy="1283.2" r="5.2"/>
<circle cx="697" cy="1231.9" r="5.2"/>
<circle cx="702.6" cy="1241.6" r="5.2"/>
<circle cx="717.8" cy="1229.2" r="5.2"/>
<circle cx="715" cy="1212.6" r="5.2"/>
<circle cx="724.7" cy="1215.3" r="5.2"/>
<circle cx="726.1" cy="1212.6" r="5.2"/>
<circle cx="720.6" cy="1194.6" r="5.2"/>
<circle cx="726.1" cy="1195.9" r="5.2"/>
<circle cx="730.3" cy="1169.6" r="5.2"/>
<circle cx="737.2" cy="1172.4" r="5.2"/>
<circle cx="741.3" cy="1176.5" r="5.2"/>
<circle cx="737.2" cy="1153" r="5.2"/>
<circle cx="744.1" cy="1191.8" r="5.2"/>
<circle cx="770.2" cy="1171.7" r="5.2"/>
<circle cx="772.2" cy="1193.9" r="5.2"/>
<circle cx="774.3" cy="1213.2" r="5.2"/>
<circle cx="777.1" cy="1222.2" r="5.2"/>
<circle cx="779.2" cy="1243.7" r="5.2"/>
<circle cx="781.9" cy="1265.9" r="5.2"/>
<circle cx="785.4" cy="1293.6" r="5.2"/>
<circle cx="793" cy="1293.6" r="5.2"/>
<circle cx="784" cy="1301.2" r="5.2"/>
<circle cx="788.9" cy="1301.2" r="5.2"/>
<circle cx="790.9" cy="1314.3" r="5.2"/>
<circle cx="795.1" cy="1319.9" r="5.2"/>
<circle cx="802" cy="1332.3" r="5.2"/>
<circle cx="799.9" cy="1341.4" r="5.2"/>
<circle cx="797.2" cy="1351.7" r="5.2"/>
<circle cx="804.8" cy="1351.7" r="5.2"/>
<circle cx="808.2" cy="1364.2" r="5.2"/>
<circle cx="821.4" cy="1333" r="5.2"/>
<circle cx="826.2" cy="1382.9" r="5.2"/>
<circle cx="831.8" cy="1382.9" r="5.2"/>
<circle cx="841.5" cy="1382.9" r="5.2"/>
<circle cx="816.6" cy="1413.4" r="5.2"/>
<circle cx="823.5" cy="1413.4" r="5.2"/>
<circle cx="830.4" cy="1413.4" r="5.2"/>
<circle cx="837.3" cy="1413.4" r="5.2"/>
<circle cx="842.9" cy="1413.4" r="5.2"/>
<circle cx="851.2" cy="1413.4" r="5.2"/>
<circle cx="856.7" cy="1413.4" r="5.2"/>
<circle cx="837.3" cy="1364.9" r="5.2"/>
<circle cx="847.7" cy="1351.7" r="5.2"/>
<circle cx="851.9" cy="1364.2" r="5.2"/>
<circle cx="849.1" cy="1294.3" r="5.2"/>
<circle cx="865" cy="1341.4" r="5.2"/>
<circle cx="872.6" cy="1326.1" r="5.2"/>
<circle cx="870.6" cy="1314.3" r="5.2"/>
<circle cx="867.8" cy="1288" r="5.2"/>
<circle cx="874" cy="1277.6" r="5.2"/>
<circle cx="878.9" cy="1283.9" r="5.2"/>
<circle cx="883" cy="1279" r="5.2"/>
<circle cx="889.3" cy="1265.9" r="5.2"/>
<circle cx="892" cy="1276.3" r="5.2"/>
<circle cx="894.1" cy="1244.4" r="5.2"/>
<circle cx="898.3" cy="1247.2" r="5.2"/>
<circle cx="901" cy="1215.3" r="5.2"/>
<circle cx="905.2" cy="1220.9" r="5.2"/>
<circle cx="907.3" cy="1194.6" r="5.2"/>
<circle cx="912.8" cy="1186.2" r="5.2"/>
<circle cx="919" cy="1180.7" r="5.2"/>
<circle cx="914.9" cy="1168.2" r="5.2"/>
<circle cx="916.3" cy="1162" r="5.2"/>
<circle cx="944.5" cy="1179.3" r="5.2"/>
<circle cx="946.5" cy="1211.2" r="5.2"/>
<circle cx="948.6" cy="1221.6" r="5.2"/>
<circle cx="951.4" cy="1236.8" r="5.2"/>
<circle cx="954.2" cy="1247.9" r="5.2"/>
<circle cx="959" cy="1258.3" r="5.2"/>
<circle cx="960.4" cy="1285.3" r="5.2"/>
<circle cx="964.5" cy="1288.7" r="5.2"/>
<circle cx="968" cy="1300.5" r="5.2"/>
<circle cx="970.1" cy="1326.1" r="5.2"/>
<circle cx="956.2" cy="1341.4" r="5.2"/>
<circle cx="979.1" cy="1351" r="5.2"/>
<circle cx="983.2" cy="1363.5" r="5.2"/>
<circle cx="990.9" cy="1363.5" r="5.2"/>
<circle cx="974.9" cy="1382.9" r="5.2"/>
<circle cx="977" cy="1413.4" r="5.2"/>
<circle cx="981.2" cy="1319.9" r="5.2"/>
<circle cx="988.8" cy="1301.2" r="5.2"/>
<circle cx="995.7" cy="1301.2" r="5.2"/>
<circle cx="1002.6" cy="1308.8" r="5.2"/>
<circle cx="1008.2" cy="1319.9" r="5.2"/>
<circle cx="1004.7" cy="1333" r="5.2"/>
<circle cx="1013.7" cy="1333" r="5.2"/>
<circle cx="1001.2" cy="1351" r="5.2"/>
<circle cx="1009.6" cy="1351" r="5.2"/>
<circle cx="1021.3" cy="1326.1" r="5.2"/>
<circle cx="1024.1" cy="1314.3" r="5.2"/>
<circle cx="1016.5" cy="1291.5" r="5.2"/>
<circle cx="1026.2" cy="1285.3" r="5.2"/>
<circle cx="1031.7" cy="1291.5" r="5.2"/>
<circle cx="1033.1" cy="1301.2" r="5.2"/>
<circle cx="1037.9" cy="1314.3" r="5.2"/>
<circle cx="1040.7" cy="1333" r="5.2"/>
<circle cx="1028.3" cy="1259.6" r="5.2"/>
<circle cx="1044.2" cy="1273.5" r="5.2"/>
<circle cx="1046.9" cy="1285.3" r="5.2"/>
<circle cx="1042.8" cy="1279" r="5.2"/>
<circle cx="1052.5" cy="1251.3" r="5.2"/>
<circle cx="1053.9" cy="1263.1" r="5.2"/>
<circle cx="1059.4" cy="1231.9" r="5.2"/>
<circle cx="1062.9" cy="1225" r="5.2"/>
<circle cx="1066.3" cy="1220.9" r="5.2"/>
<circle cx="1062.2" cy="1204.9" r="5.2"/>
<circle cx="1068.4" cy="1190.4" r="5.2"/>
<circle cx="1073.3" cy="1177.9" r="5.2"/>
<circle cx="1078.8" cy="1180.7" r="5.2"/>
<circle cx="1084.3" cy="1183.5" r="5.2"/>
<circle cx="1091.3" cy="1191.8" r="5.2"/>
<circle cx="1092.6" cy="1176.5" r="5.2"/>
<circle cx="1099.6" cy="1181.4" r="5.2"/>
<circle cx="1124.5" cy="1164.8" r="5.2"/>
<circle cx="1126.5" cy="1170.3" r="5.2"/>
<circle cx="1129.3" cy="1186.2" r="5.2"/>
<circle cx="1131.4" cy="1191.1" r="5.2"/>
<circle cx="1134.2" cy="1229.9" r="5.2"/>
<circle cx="1136.2" cy="1234.7" r="5.2"/>
<circle cx="1137.6" cy="1266.6" r="5.2"/>
<circle cx="1152.2" cy="1259.6" r="5.2"/>
<circle cx="1145.2" cy="1276.3" r="5.2"/>
<circle cx="1149.4" cy="1280.4" r="5.2"/>
<circle cx="1154.9" cy="1283.2" r="5.2"/>
<circle cx="1157" cy="1297" r="5.2"/>
<circle cx="1161.9" cy="1305.3" r="5.2"/>
<circle cx="1164.6" cy="1294.3" r="5.2"/>
<circle cx="1141.1" cy="1305.3" r="5.2"/>
<circle cx="1143.9" cy="1309.5" r="5.2"/>
<circle cx="1166" cy="1320.6" r="5.2"/>
<circle cx="1168.8" cy="1341.4" r="5.2"/>
<circle cx="1172.9" cy="1351" r="5.2"/>
<circle cx="1177.1" cy="1363.5" r="5.2"/>
<circle cx="1189.6" cy="1382.9" r="5.2"/>
<circle cx="1191.6" cy="1413.4" r="5.2"/>
<circle cx="1182.6" cy="1320.6" r="5.2"/>
<circle cx="1184.7" cy="1305.3" r="5.2"/>
<circle cx="1199.2" cy="1305.3" r="5.2"/>
<circle cx="1204.1" cy="1315" r="5.2"/>
<circle cx="1195.1" cy="1331.7" r="5.2"/>
<circle cx="1187.5" cy="1341.4" r="5.2"/>
<circle cx="1197.2" cy="1341.4" r="5.2"/>
<circle cx="1202" cy="1341.4" r="5.2"/>
<circle cx="1207.6" cy="1272.1" r="5.2"/>
<circle cx="1206.2" cy="1247.9" r="5.2"/>
<circle cx="1211" cy="1236.8" r="5.2"/>
<circle cx="1214.5" cy="1251.3" r="5.2"/>
<circle cx="1218.6" cy="1249.9" r="5.2"/>
<circle cx="1222.8" cy="1310.2" r="5.2"/>
<circle cx="1225.6" cy="1294.3" r="5.2"/>
<circle cx="1229" cy="1287.3" r="5.2"/>
<circle cx="1224.9" cy="1271.4" r="5.2"/>
<circle cx="1233.9" cy="1261.7" r="5.2"/>
<circle cx="1236.6" cy="1272.1" r="5.2"/>
<circle cx="1240.8" cy="1249.9" r="5.2"/>
<circle cx="1232.5" cy="1248.6" r="5.2"/>
<circle cx="1239.4" cy="1238.9" r="5.2"/>
<circle cx="1243.6" cy="1209.8" r="5.2"/>
<circle cx="1249.1" cy="1222.2" r="5.2"/>
<circle cx="1251.9" cy="1180.7" r="5.2"/>
<circle cx="1249.8" cy="1186.2" r="5.2"/>
<circle cx="1254.6" cy="1190.4" r="5.2"/>
<circle cx="1260.2" cy="1198.7" r="5.2"/>
<circle cx="1257.4" cy="1164.1" r="5.2"/>
<circle cx="1286.2" cy="1157.2" r="5.2"/>
<circle cx="1284.2" cy="1167.5" r="5.2"/>
<circle cx="1289" cy="1168.9" r="5.2"/>
<circle cx="1290.4" cy="1182.8" r="5.2"/>
<circle cx="1292.5" cy="1187.6" r="5.2"/>
<circle cx="1295.9" cy="1191.1" r="5.2"/>
<circle cx="1298.7" cy="1216" r="5.2"/>
<circle cx="1300.1" cy="1222.2" r="5.2"/>
<circle cx="1304.9" cy="1252.7" r="5.2"/>
<circle cx="1309.8" cy="1251.3" r="5.2"/>
<circle cx="1315.3" cy="1254.1" r="5.2"/>
<circle cx="1322.2" cy="1246.5" r="5.2"/>
<circle cx="1316.7" cy="1273.5" r="5.2"/>
<circle cx="1311.9" cy="1288.7" r="5.2"/>
<circle cx="1323.6" cy="1286" r="5.2"/>
<circle cx="1327.8" cy="1289.4" r="5.2"/>
<circle cx="1343" cy="1297.7" r="5.2"/>
<circle cx="1347.2" cy="1309.5" r="5.2"/>
<circle cx="1328.5" cy="1309.5" r="5.2"/>
<circle cx="1335.4" cy="1319.9" r="5.2"/>
<circle cx="1326.4" cy="1333" r="5.2"/>
<circle cx="1344.4" cy="1333" r="5.2"/>
<circle cx="1338.2" cy="1351" r="5.2"/>
<circle cx="1340.2" cy="1364.2" r="5.2"/>
<circle cx="1349.2" cy="1364.2" r="5.2"/>
<circle cx="1354.1" cy="1382.9" r="5.2"/>
<circle cx="1363.8" cy="1382.9" r="5.2"/>
<circle cx="1361" cy="1413.4" r="5.2"/>
<circle cx="1372.8" cy="1413.4" r="5.2"/>
<circle cx="1358.9" cy="1301.2" r="5.2"/>
<circle cx="1356.9" cy="1319.2" r="5.2"/>
<circle cx="1368.6" cy="1333" r="5.2"/>
<circle cx="1370.7" cy="1326.1" r="5.2"/>
<circle cx="1374.9" cy="1319.9" r="5.2"/>
<circle cx="1384.6" cy="1333" r="5.2"/>
<circle cx="1366.6" cy="1351" r="5.2"/>
<circle cx="1381.8" cy="1364.2" r="5.2"/>
<circle cx="1401.2" cy="1301.2" r="5.2"/>
<circle cx="1377.6" cy="1282.5" r="5.2"/>
<circle cx="1380.4" cy="1291.5" r="5.2"/>
<circle cx="1387.3" cy="1265.2" r="5.2"/>
<circle cx="1391.5" cy="1251.3" r="5.2"/>
<circle cx="1397" cy="1265.9" r="5.2"/>
<circle cx="1397.7" cy="1268" r="5.2"/>
<circle cx="1404" cy="1243" r="5.2"/>
<circle cx="1405.3" cy="1256.9" r="5.2"/>
<circle cx="1412.3" cy="1256.9" r="5.2"/>
<circle cx="1415" cy="1252.7" r="5.2"/>
<circle cx="1408.1" cy="1277.6" r="5.2"/>
<circle cx="1410.2" cy="1283.2" r="5.2"/>
<circle cx="1417.1" cy="1234" r="5.2"/>
<circle cx="1419.9" cy="1218.8" r="5.2"/>
<circle cx="1422" cy="1194.6" r="5.2"/>
<circle cx="1426.1" cy="1187.6" r="5.2"/>
<circle cx="1435.8" cy="1179.3" r="5.2"/>
<circle cx="1428.9" cy="1161.3" r="5.2"/>
<circle cx="1431.6" cy="1164.8" r="5.2"/>
<circle cx="1433.7" cy="1155.1" r="5.2"/>
</g>
<polyline points="225.3,1226.1 227.3,1227.8 229.3,1229.6 231.4,1231.6 233.4,1233.7 235.4,1236 237.4,1238.5 239.4,1241.3 241.5,1244.2 243.5,1247.5 245.5,1251 247.5,1254.8 249.5,1259.4 251.6,1265.4 253.6,1273.3 255.6,1283.5 257.6,1294.6 259.6,1304.8 261.7,1314.1 263.7,1322.8 265.7,1331.6 267.7,1340 269.7,1347.1 271.8,1352.1 273.8,1354.6 275.8,1354.8 277.8,1353.2 279.8,1350 281.9,1345.5 283.9,1340.1 285.9,1334.2 287.9,1328.1 289.9,1322.5 292,1317.4 294,1312.6 296,1307.3 298,1300.9 300,1292.9 302.1,1284.5 304.1,1277.9 306.1,1273.4 308.1,1269.8 310.1,1265.9 312.2,1261.7 314.2,1257.1 316.2,1252.3 318.2,1247.5 320.2,1242.8 322.3,1238.1 324.3,1233.6 326.3,1229.2 328.3,1224.9 330.3,1220.8 332.4,1216.9 334.4,1213.1 336.4,1209.6 338.4,1206.3 340.4,1203.2 342.5,1200.3 344.5,1197.8 346.5,1195.5 348.5,1193.4 350.5,1191.7 352.6,1190.4 354.6,1189.3 356.6,1188.6" fill="none" stroke="#ec1c2c" stroke-width="6.6" stroke-linejoin="round" stroke-linecap="round"/>
<polyline points="378.4,1223.9 380.4,1225.4 382.4,1226.8 384.4,1228.3 386.4,1229.9 388.4,1231.4 390.4,1233.1 392.4,1234.7 394.4,1236.5 396.4,1238.4 398.4,1240.3 400.4,1242.4 402.4,1244.6 404.4,1246.9 406.4,1249.4 408.4,1252.1 410.4,1254.9 412.4,1257.9 414.4,1261.1 416.4,1264.6 418.4,1268.2 420.4,1272.1 422.4,1276.2 424.4,1280.5 426.4,1284.9 428.4,1289.3 430.4,1293.7 432.4,1297.9 434.4,1301.9 436.4,1305.6 438.4,1308.9 440.4,1311.8 442.4,1314.4 444.4,1316.6 446.4,1318.4 448.4,1320 450.4,1321.2 452.4,1322.2 454.4,1323 456.4,1323.5 458.4,1323.8 460.4,1323.9 462.4,1323.8 464.4,1323.4 466.4,1322.8 468.4,1321.9 470.5,1320.8 472.5,1319.4 474.5,1317.7 476.5,1315.7 478.5,1313.4 480.5,1310.8 482.5,1307.9 484.5,1304.8 486.5,1301.3 488.5,1297.7 490.5,1293.9 492.5,1289.9 494.5,1285.7 496.5,1281.5 498.5,1277.1 500.5,1272.6 502.5,1268.1 504.5,1263.6 506.5,1259.1 508.5,1254.6 510.5,1250.1 512.5,1245.8 514.5,1241.5 516.5,1237.3 518.5,1233.3 520.5,1229.4 522.5,1225.8 524.5,1222.3 526.5,1219 528.5,1215.9 530.5,1213 532.5,1210.2 534.5,1207.6 536.5,1205.2 538.5,1202.9 540.5,1200.8 542.5,1198.8 544.5,1197 546.5,1195.4 548.5,1193.9 550.5,1192.5 552.5,1191.2 554.5,1190.1 556.5,1189.1 558.5,1188.3 560.5,1187.5" fill="none" stroke="#ec1c2c" stroke-width="6.6" stroke-linejoin="round" stroke-linecap="round"/>
<polyline points="582.1,1257.8 584.1,1258.4 586.1,1259.2 588.2,1260.3 590.2,1261.5 592.2,1262.9 594.2,1264.5 596.2,1266.2 598.2,1268.1 600.3,1270.2 602.3,1272.3 604.3,1274.6 606.3,1277 608.3,1279.4 610.3,1281.9 612.4,1284.5 614.4,1287.1 616.4,1289.7 618.4,1292.3 620.4,1295 622.4,1297.6 624.5,1300.2 626.5,1302.8 628.5,1305.3 630.5,1307.7 632.5,1310.1 634.5,1312.4 636.6,1314.5 638.6,1316.5 640.6,1318.3 642.6,1319.9 644.6,1321.1 646.7,1322.1 648.7,1322.7 650.7,1323 652.7,1322.8 654.7,1322.1 656.7,1321 658.8,1319.4 660.8,1317.4 662.8,1315 664.8,1312.2 666.8,1309.1 668.8,1305.7 670.9,1302 672.9,1298.1 674.9,1293.9 676.9,1289.6 678.9,1285.1 680.9,1280.6 683,1275.9 685,1271.2 687,1266.4 689,1261.7 691,1257.1 693.1,1252.5 695.1,1248 697.1,1243.7 699.1,1239.5 701.1,1235.6 703.1,1231.9 705.2,1228.5 707.2,1225.4 709.2,1222.5 711.2,1219.8 713.2,1217.4 715.2,1215.2 717.3,1213.1 719.3,1211.1 721.3,1209.3 723.3,1207.6 725.3,1206 727.3,1204.4 729.4,1202.8 731.4,1201.3 733.4,1199.8 735.4,1198.2 737.4,1196.7 739.4,1195.1 741.5,1193.5 743.5,1191.8 745.5,1190.1" fill="none" stroke="#ec1c2c" stroke-width="6.6" stroke-linejoin="round" stroke-linecap="round"/>
<polyline points="768.8,1265.4 770.8,1267.2 772.8,1269 774.9,1270.9 776.9,1272.9 778.9,1275 780.9,1277.2 782.9,1279.6 785,1282 787,1284.6 789,1287.4 791,1290.4 793.1,1293.6 795.1,1296.9 797.1,1300.5 799.1,1304.4 801.1,1308.5 803.2,1312.8 805.2,1317.5 807.2,1322.4 809.2,1327.3 811.2,1332.3 813.3,1337.1 815.3,1341.7 817.3,1345.8 819.3,1349.5 821.4,1352.7 823.4,1355.2 825.4,1357.3 827.4,1358.8 829.4,1359.6 831.5,1359.8 833.5,1359.3 835.5,1357.9 837.5,1355.8 839.5,1353.1 841.6,1350 843.6,1346.4 845.6,1342.6 847.6,1338.7 849.7,1334.8 851.7,1330.8 853.7,1326.8 855.7,1322.8 857.7,1318.7 859.8,1314.5 861.8,1310.1 863.8,1305.6 865.8,1300.8 867.8,1295.9 869.9,1290.7 871.9,1285.4 873.9,1280 875.9,1274.5 878,1269.1 880,1263.7 882,1258.4 884,1253.3 886,1248.3 888.1,1243.5 890.1,1238.9 892.1,1234.4 894.1,1230.2 896.1,1226.1 898.2,1222.3 900.2,1218.7 902.2,1215.3 904.2,1212.1 906.3,1209.2 908.3,1206.5 910.3,1204.1 912.3,1201.9 914.3,1200.1 916.4,1198.5 918.4,1197.1 920.4,1196.1" fill="none" stroke="#ec1c2c" stroke-width="6.6" stroke-linejoin="round" stroke-linecap="round"/>
<polyline points="943.1,1255.5 945.1,1258.1 947.1,1260.4 949.1,1262.4 951.2,1264.3 953.2,1266.1 955.2,1267.8 957.2,1269.6 959.2,1271.5 961.2,1273.5 963.2,1275.8 965.3,1278.4 967.3,1281.3 969.3,1284.7 971.3,1288.4 973.3,1292.3 975.3,1296.4 977.3,1300.6 979.4,1304.6 981.4,1308.4 983.4,1311.9 985.4,1314.9 987.4,1317.3 989.4,1319.1 991.4,1320.2 993.5,1320.4 995.5,1319.9 997.5,1318.8 999.5,1317.3 1001.5,1315.6 1003.5,1314.1 1005.5,1312.5 1007.6,1311 1009.6,1309.4 1011.6,1307.8 1013.6,1306 1015.6,1304.1 1017.6,1302 1019.6,1299.7 1021.7,1297.1 1023.7,1294.3 1025.7,1291.1 1027.7,1287.6 1029.7,1283.9 1031.7,1280 1033.7,1275.8 1035.8,1271.5 1037.8,1267.1 1039.8,1262.6 1041.8,1258 1043.8,1253.4 1045.8,1248.8 1047.8,1244.2 1049.9,1239.7 1051.9,1235.3 1053.9,1231 1055.9,1226.8 1057.9,1222.9 1059.9,1219.2 1061.9,1215.7 1064,1212.3 1066,1209.2 1068,1206.2 1070,1203.4 1072,1200.7 1074,1198.2 1076,1195.9 1078.1,1193.7 1080.1,1191.6 1082.1,1189.7 1084.1,1187.9 1086.1,1186.2 1088.1,1184.6 1090.1,1183.2 1092.2,1181.8 1094.2,1180.5 1096.2,1179.3 1098.2,1178.2" fill="none" stroke="#ec1c2c" stroke-width="6.6" stroke-linejoin="round" stroke-linecap="round"/>
<polyline points="1123.8,1241 1125.8,1243.5 1127.8,1245.8 1129.9,1247.9 1131.9,1250 1133.9,1252 1135.9,1254 1137.9,1256.2 1139.9,1258.4 1142,1260.8 1144,1263.4 1146,1266.3 1148,1269.6 1150,1273.2 1152,1277.1 1154.1,1281.2 1156.1,1285.4 1158.1,1289.7 1160.1,1293.9 1162.1,1297.9 1164.1,1301.7 1166.2,1305.2 1168.2,1308.2 1170.2,1310.9 1172.2,1313 1174.2,1314.5 1176.3,1315.4 1178.3,1315.6 1180.3,1315 1182.3,1313.7 1184.3,1311.9 1186.3,1309.7 1188.4,1307.3 1190.4,1304.8 1192.4,1302.3 1194.4,1299.7 1196.4,1297 1198.4,1294.3 1200.5,1291.5 1202.5,1288.6 1204.5,1285.7 1206.5,1282.7 1208.5,1279.7 1210.5,1276.7 1212.6,1273.7 1214.6,1270.6 1216.6,1267.5 1218.6,1264.4 1220.6,1261.4 1222.7,1258.3 1224.7,1255.2 1226.7,1252.2 1228.7,1249.1 1230.7,1246.1 1232.7,1243.2 1234.8,1240.3 1236.8,1237.4 1238.8,1234.6 1240.8,1231.8 1242.8,1229.1 1244.8,1226.5 1246.9,1224 1248.9,1221.5 1250.9,1219.2 1252.9,1216.9 1254.9,1214.7 1256.9,1212.6 1259,1210.7 1261,1208.9 1263,1207.2" fill="none" stroke="#ec1c2c" stroke-width="6.6" stroke-linejoin="round" stroke-linecap="round"/>
<polyline points="1282.8,1198.3 1284.8,1199.7 1286.8,1201.1 1288.8,1202.6 1290.8,1204.2 1292.8,1205.9 1294.8,1207.7 1296.8,1209.7 1298.8,1211.9 1300.8,1214.2 1302.9,1216.7 1304.9,1219.4 1306.9,1222.4 1308.9,1225.6 1310.9,1229.1 1312.9,1232.9 1314.9,1236.9 1316.9,1241.3 1318.9,1245.9 1320.9,1250.8 1322.9,1255.8 1324.9,1261 1326.9,1266.2 1328.9,1271.5 1330.9,1276.7 1332.9,1281.8 1334.9,1286.9 1336.9,1291.7 1338.9,1296.3 1341,1300.7 1343,1304.7 1345,1308.4 1347,1311.6 1349,1314.4 1351,1316.6 1353,1318.3 1355,1319.4 1357,1319.9 1359,1319.6 1361,1318.7 1363,1317.3 1365,1315.3 1367,1312.8 1369,1310 1371,1306.8 1373,1303.4 1375,1299.7 1377,1295.9 1379,1291.9 1381.1,1287.9 1383.1,1283.8 1385.1,1279.7 1387.1,1275.5 1389.1,1271.4 1391.1,1267.2 1393.1,1263.1 1395.1,1259.1 1397.1,1255.1 1399.1,1251.3 1401.1,1247.5 1403.1,1243.8 1405.1,1240.1 1407.1,1236.6 1409.1,1233.1 1411.1,1229.7 1413.1,1226.4 1415.1,1223.2 1417.1,1220.1 1419.2,1217 1421.2,1214 1423.2,1211.1 1425.2,1208.2 1427.2,1205.4 1429.2,1202.7 1431.2,1200.1 1433.2,1197.5 1435.2,1195 1437.2,1192.6" fill="none" stroke="#ec1c2c" stroke-width="6.6" stroke-linejoin="round" stroke-linecap="round"/>
<line x1="177.8" y1="1088.9" x2="177.8" y2="1427.9" stroke="#1a1a1a" stroke-width="2.4"/>
<line x1="176.6" y1="1426.7" x2="1483.5" y2="1426.7" stroke="#1a1a1a" stroke-width="2.4"/>
<line x1="163.8" y1="1414.5" x2="177.8" y2="1414.5" stroke="#1a1a1a" stroke-width="2.4"/>
<text x="148.4" y="1425.8" font-size="29.1" text-anchor="end" fill="#111">1</text>
<line x1="163.8" y1="1341.5" x2="177.8" y2="1341.5" stroke="#1a1a1a" stroke-width="2.4"/>
<text x="148.4" y="1352.8" font-size="29.1" text-anchor="end" fill="#111">5</text>
<line x1="163.8" y1="1310" x2="177.8" y2="1310" stroke="#1a1a1a" stroke-width="2.4"/>
<text x="148.4" y="1321.3" font-size="29.1" text-anchor="end" fill="#111">10</text>
<line x1="163.8" y1="1237" x2="177.8" y2="1237" stroke="#1a1a1a" stroke-width="2.4"/>
<text x="148.4" y="1248.3" font-size="29.1" text-anchor="end" fill="#111">50</text>
<line x1="163.8" y1="1205.5" x2="177.8" y2="1205.5" stroke="#1a1a1a" stroke-width="2.4"/>
<text x="148.4" y="1216.8" font-size="29.1" text-anchor="end" fill="#111">100</text>
<line x1="163.8" y1="1132.5" x2="177.8" y2="1132.5" stroke="#1a1a1a" stroke-width="2.4"/>
<text x="148.4" y="1143.8" font-size="29.1" text-anchor="end" fill="#111">500</text>
<line x1="163.8" y1="1101" x2="177.8" y2="1101" stroke="#1a1a1a" stroke-width="2.4"/>
<text x="148.4" y="1112.3" font-size="29.1" text-anchor="end" fill="#111">1000</text>
<text x="291.7" y="1478.8" font-size="24.2" text-anchor="middle" fill="#111">1H</text>
<text x="469.1" y="1478.8" font-size="24.2" text-anchor="middle" fill="#111">2H</text>
<text x="663.8" y="1478.8" font-size="24.2" text-anchor="middle" fill="#111">3H</text>
<text x="844.5" y="1478.8" font-size="24.2" text-anchor="middle" fill="#111">4H</text>
<text x="1022.5" y="1478.8" font-size="24.2" text-anchor="middle" fill="#111">5H</text>
<text x="1191.6" y="1478.8" font-size="24.2" text-anchor="middle" fill="#111">6H</text>
<text x="1360.7" y="1478.8" font-size="24.2" text-anchor="middle" fill="#111">7H</text>
<text x="831.5" y="1535.8" font-size="29.6" text-anchor="middle" fill="#111">Position in reference genome</text>
<text x="86.5" y="1258.8" font-size="29.8" text-anchor="middle" transform="rotate(-90 86.5 1258.8)" fill="#111">Number of SNPs</text>
<line x1="214.7" y1="1626.5" x2="214.7" y2="1964.3" stroke="#1c0cd8" stroke-width="3.6"/>
<line x1="368.6" y1="1626.5" x2="368.6" y2="1964.3" stroke="#1c0cd8" stroke-width="3.6"/>
<line x1="571.6" y1="1626.5" x2="571.6" y2="1964.3" stroke="#1c0cd8" stroke-width="3.6"/>
<line x1="758.2" y1="1626.5" x2="758.2" y2="1964.3" stroke="#1c0cd8" stroke-width="3.6"/>
<line x1="933.2" y1="1626.5" x2="933.2" y2="1964.3" stroke="#1c0cd8" stroke-width="3.6"/>
<line x1="1113.2" y1="1626.5" x2="1113.2" y2="1964.3" stroke="#1c0cd8" stroke-width="3.6"/>
<line x1="1272.8" y1="1626.5" x2="1272.8" y2="1964.3" stroke="#1c0cd8" stroke-width="3.6"/>
<line x1="1450" y1="1626.5" x2="1450" y2="1964.3" stroke="#1c0cd8" stroke-width="3.6"/>
<g fill="#0a0a0a">
<circle cx="226.5" cy="1721.9" r="5.2"/>
<circle cx="228.5" cy="1731.6" r="5.2"/>
<circle cx="233.4" cy="1767.6" r="5.2"/>
<circle cx="230.6" cy="1772.4" r="5.2"/>
<circle cx="238.2" cy="1782.8" r="5.2"/>
<circle cx="243.1" cy="1794.6" r="5.2"/>
<circle cx="244.5" cy="1825.7" r="5.2"/>
<circle cx="240.3" cy="1847.2" r="5.2"/>
<circle cx="247.2" cy="1863.8" r="5.2"/>
<circle cx="249.3" cy="1920.6" r="5.2"/>
<circle cx="251.4" cy="1952.4" r="5.2"/>
<circle cx="259.7" cy="1952.4" r="5.2"/>
<circle cx="272.2" cy="1952.4" r="5.2"/>
<circle cx="283.9" cy="1952.4" r="5.2"/>
<circle cx="287.4" cy="1870" r="5.2"/>
<circle cx="302.6" cy="1870" r="5.2"/>
<circle cx="298.5" cy="1888.7" r="5.2"/>
<circle cx="295.7" cy="1901.9" r="5.2"/>
<circle cx="306.8" cy="1823" r="5.2"/>
<circle cx="310.9" cy="1816" r="5.2"/>
<circle cx="313" cy="1827.1" r="5.2"/>
<circle cx="317.2" cy="1838.9" r="5.2"/>
<circle cx="316.5" cy="1805" r="5.2"/>
<circle cx="322" cy="1809.1" r="5.2"/>
<circle cx="326.2" cy="1804.3" r="5.2"/>
<circle cx="322" cy="1782.8" r="5.2"/>
<circle cx="328.9" cy="1793.9" r="5.2"/>
<circle cx="334.5" cy="1790.4" r="5.2"/>
<circle cx="337.3" cy="1786.3" r="5.2"/>
<circle cx="342.8" cy="1766.9" r="5.2"/>
<circle cx="331.7" cy="1766.2" r="5.2"/>
<circle cx="342.8" cy="1749.6" r="5.2"/>
<circle cx="348.3" cy="1737.1" r="5.2"/>
<circle cx="345.6" cy="1719.1" r="5.2"/>
<circle cx="349.7" cy="1716.3" r="5.2"/>
<circle cx="355.3" cy="1723.2" r="5.2"/>
<circle cx="382.5" cy="1725.3" r="5.2"/>
<circle cx="379.8" cy="1735.7" r="5.2"/>
<circle cx="384.6" cy="1744.7" r="5.2"/>
<circle cx="391.5" cy="1757.2" r="5.2"/>
<circle cx="386.7" cy="1764.8" r="5.2"/>
<circle cx="396.4" cy="1772.4" r="5.2"/>
<circle cx="390.9" cy="1767.6" r="5.2"/>
<circle cx="404.7" cy="1789" r="5.2"/>
<circle cx="393.6" cy="1815.3" r="5.2"/>
<circle cx="408.2" cy="1817.4" r="5.2"/>
<circle cx="398.5" cy="1828.5" r="5.2"/>
<circle cx="402.6" cy="1824.3" r="5.2"/>
<circle cx="412.3" cy="1831.3" r="5.2"/>
<circle cx="417.9" cy="1838.2" r="5.2"/>
<circle cx="428.9" cy="1828.5" r="5.2"/>
<circle cx="434.5" cy="1846.5" r="5.2"/>
<circle cx="437.2" cy="1856.9" r="5.2"/>
<circle cx="424.1" cy="1856.9" r="5.2"/>
<circle cx="410.2" cy="1863.1" r="5.2"/>
<circle cx="431.7" cy="1870" r="5.2"/>
<circle cx="426.2" cy="1879" r="5.2"/>
<circle cx="415.1" cy="1888.7" r="5.2"/>
<circle cx="422" cy="1901.9" r="5.2"/>
<circle cx="438.6" cy="1919.9" r="5.2"/>
<circle cx="446.9" cy="1919.9" r="5.2"/>
<circle cx="469.1" cy="1919.9" r="5.2"/>
<circle cx="442.8" cy="1952.4" r="5.2"/>
<circle cx="451.1" cy="1952.4" r="5.2"/>
<circle cx="458" cy="1952.4" r="5.2"/>
<circle cx="464.9" cy="1952.4" r="5.2"/>
<circle cx="471.2" cy="1870" r="5.2"/>
<circle cx="478.8" cy="1870" r="5.2"/>
<circle cx="482.9" cy="1864.5" r="5.2"/>
<circle cx="489.9" cy="1878.4" r="5.2"/>
<circle cx="487.1" cy="1888.7" r="5.2"/>
<circle cx="494" cy="1888.7" r="5.2"/>
<circle cx="476" cy="1838.2" r="5.2"/>
<circle cx="480.2" cy="1847.2" r="5.2"/>
<circle cx="484.3" cy="1835.4" r="5.2"/>
<circle cx="496.8" cy="1846.5" r="5.2"/>
<circle cx="502.3" cy="1852" r="5.2"/>
<circle cx="501" cy="1842.3" r="5.2"/>
<circle cx="506.5" cy="1835.4" r="5.2"/>
<circle cx="512" cy="1842.3" r="5.2"/>
<circle cx="519" cy="1839.6" r="5.2"/>
<circle cx="520.3" cy="1863.1" r="5.2"/>
<circle cx="507.9" cy="1818.1" r="5.2"/>
<circle cx="516.2" cy="1798" r="5.2"/>
<circle cx="531.4" cy="1793.9" r="5.2"/>
<circle cx="528.6" cy="1780" r="5.2"/>
<circle cx="525.9" cy="1781.4" r="5.2"/>
<circle cx="527.3" cy="1755.1" r="5.2"/>
<circle cx="535.6" cy="1762" r="5.2"/>
<circle cx="538.3" cy="1751.6" r="5.2"/>
<circle cx="550.8" cy="1752.3" r="5.2"/>
<circle cx="537" cy="1737.1" r="5.2"/>
<circle cx="542.5" cy="1734.3" r="5.2"/>
<circle cx="548" cy="1724.6" r="5.2"/>
<circle cx="546.7" cy="1714.9" r="5.2"/>
<circle cx="556.3" cy="1733.6" r="5.2"/>
<circle cx="553.6" cy="1746.8" r="5.2"/>
<circle cx="584.8" cy="1731.6" r="5.2"/>
<circle cx="582.8" cy="1741.2" r="5.2"/>
<circle cx="587.6" cy="1740.6" r="5.2"/>
<circle cx="589.7" cy="1754.4" r="5.2"/>
<circle cx="591.8" cy="1776.6" r="5.2"/>
<circle cx="594.5" cy="1810.5" r="5.2"/>
<circle cx="606.3" cy="1820.2" r="5.2"/>
<circle cx="598.7" cy="1832" r="5.2"/>
<circle cx="595.9" cy="1825.7" r="5.2"/>
<circle cx="608.4" cy="1825.7" r="5.2"/>
<circle cx="620.2" cy="1825.7" r="5.2"/>
<circle cx="625" cy="1828.5" r="5.2"/>
<circle cx="634" cy="1825.7" r="5.2"/>
<circle cx="629.9" cy="1843" r="5.2"/>
<circle cx="610.5" cy="1852" r="5.2"/>
<circle cx="613.2" cy="1856.2" r="5.2"/>
<circle cx="601.5" cy="1857.6" r="5.2"/>
<circle cx="631.9" cy="1856.2" r="5.2"/>
<circle cx="644.4" cy="1863.1" r="5.2"/>
<circle cx="648.6" cy="1863.8" r="5.2"/>
<circle cx="622.9" cy="1870.7" r="5.2"/>
<circle cx="618.1" cy="1879" r="5.2"/>
<circle cx="645.8" cy="1879" r="5.2"/>
<circle cx="615.3" cy="1901.9" r="5.2"/>
<circle cx="627.1" cy="1901.9" r="5.2"/>
<circle cx="636.1" cy="1901.9" r="5.2"/>
<circle cx="655.5" cy="1901.9" r="5.2"/>
<circle cx="659.6" cy="1901.9" r="5.2"/>
<circle cx="665.2" cy="1901.9" r="5.2"/>
<circle cx="671.4" cy="1920.6" r="5.2"/>
<circle cx="638.9" cy="1951.8" r="5.2"/>
<circle cx="650.6" cy="1951.8" r="5.2"/>
<circle cx="656.9" cy="1951.8" r="5.2"/>
<circle cx="661" cy="1951.8" r="5.2"/>
<circle cx="669.3" cy="1879" r="5.2"/>
<circle cx="674.2" cy="1870" r="5.2"/>
<circle cx="678.3" cy="1869.3" r="5.2"/>
<circle cx="681.8" cy="1863.1" r="5.2"/>
<circle cx="683.2" cy="1856.9" r="5.2"/>
<circle cx="688" cy="1879" r="5.2"/>
<circle cx="679" cy="1843" r="5.2"/>
<circle cx="692.9" cy="1843" r="5.2"/>
<circle cx="690.8" cy="1829.2" r="5.2"/>
<circle cx="685.3" cy="1813.3" r="5.2"/>
<circle cx="695.6" cy="1813.3" r="5.2"/>
<circle cx="705.3" cy="1821.6" r="5.2"/>
<circle cx="708.1" cy="1824.3" r="5.2"/>
<circle cx="713.6" cy="1805.6" r="5.2"/>
<circle cx="702.6" cy="1802.9" r="5.2"/>
<circle cx="697" cy="1793.9" r="5.2"/>
<circle cx="699.1" cy="1786.3" r="5.2"/>
<circle cx="710.9" cy="1769.6" r="5.2"/>
<circle cx="717.8" cy="1774.5" r="5.2"/>
<circle cx="724.7" cy="1778.6" r="5.2"/>
<circle cx="723.3" cy="1763.4" r="5.2"/>
<circle cx="727.5" cy="1752.3" r="5.2"/>
<circle cx="720.6" cy="1741.2" r="5.2"/>
<circle cx="730.3" cy="1722.5" r="5.2"/>
<circle cx="735.8" cy="1725.3" r="5.2"/>
<circle cx="740" cy="1726" r="5.2"/>
<circle cx="742.7" cy="1734.3" r="5.2"/>
<circle cx="744.1" cy="1748.2" r="5.2"/>
<circle cx="737.2" cy="1706.6" r="5.2"/>
<circle cx="770.2" cy="1728.8" r="5.2"/>
<circle cx="772.2" cy="1741.2" r="5.2"/>
<circle cx="775" cy="1769.6" r="5.2"/>
<circle cx="777.8" cy="1770.3" r="5.2"/>
<circle cx="779.2" cy="1786.9" r="5.2"/>
<circle cx="780.5" cy="1832.6" r="5.2"/>
<circle cx="785.4" cy="1839.6" r="5.2"/>
<circle cx="783.3" cy="1852" r="5.2"/>
<circle cx="790.2" cy="1853.4" r="5.2"/>
<circle cx="794.4" cy="1856.2" r="5.2"/>
<circle cx="788.2" cy="1863.8" r="5.2"/>
<circle cx="802" cy="1870.7" r="5.2"/>
<circle cx="790.9" cy="1879" r="5.2"/>
<circle cx="799.9" cy="1888.7" r="5.2"/>
<circle cx="821.4" cy="1879" r="5.2"/>
<circle cx="797.9" cy="1920.6" r="5.2"/>
<circle cx="804.8" cy="1920.6" r="5.2"/>
<circle cx="847" cy="1920.6" r="5.2"/>
<circle cx="852.6" cy="1920.6" r="5.2"/>
<circle cx="806.9" cy="1951.8" r="5.2"/>
<circle cx="826.2" cy="1951.8" r="5.2"/>
<circle cx="831.8" cy="1951.8" r="5.2"/>
<circle cx="837.3" cy="1951.8" r="5.2"/>
<circle cx="849.1" cy="1839.6" r="5.2"/>
<circle cx="865" cy="1888.7" r="5.2"/>
<circle cx="872.6" cy="1870.7" r="5.2"/>
<circle cx="870.6" cy="1857.6" r="5.2"/>
<circle cx="867.8" cy="1829.2" r="5.2"/>
<circle cx="874.7" cy="1825.7" r="5.2"/>
<circle cx="883" cy="1830.6" r="5.2"/>
<circle cx="881.6" cy="1825.7" r="5.2"/>
<circle cx="887.2" cy="1817.4" r="5.2"/>
<circle cx="891.3" cy="1820.9" r="5.2"/>
<circle cx="893.4" cy="1810.5" r="5.2"/>
<circle cx="888.6" cy="1813.3" r="5.2"/>
<circle cx="898.3" cy="1800.8" r="5.2"/>
<circle cx="896.9" cy="1789" r="5.2"/>
<circle cx="903.8" cy="1770.3" r="5.2"/>
<circle cx="905.2" cy="1766.2" r="5.2"/>
<circle cx="900.3" cy="1763.4" r="5.2"/>
<circle cx="908" cy="1744" r="5.2"/>
<circle cx="912.1" cy="1737.8" r="5.2"/>
<circle cx="919.7" cy="1727.4" r="5.2"/>
<circle cx="914.9" cy="1719.1" r="5.2"/>
<circle cx="944.5" cy="1741.2" r="5.2"/>
<circle cx="947.9" cy="1771.7" r="5.2"/>
<circle cx="946.5" cy="1775.2" r="5.2"/>
<circle cx="951.4" cy="1788.3" r="5.2"/>
<circle cx="954.9" cy="1811.2" r="5.2"/>
<circle cx="959.7" cy="1816" r="5.2"/>
<circle cx="966.6" cy="1831.3" r="5.2"/>
<circle cx="961.1" cy="1843" r="5.2"/>
<circle cx="968" cy="1852" r="5.2"/>
<circle cx="972.2" cy="1863.8" r="5.2"/>
<circle cx="969.4" cy="1870.7" r="5.2"/>
<circle cx="987.4" cy="1847.9" r="5.2"/>
<circle cx="992.9" cy="1847.9" r="5.2"/>
<circle cx="997.8" cy="1847.9" r="5.2"/>
<circle cx="1002.6" cy="1847.9" r="5.2"/>
<circle cx="987.4" cy="1863.1" r="5.2"/>
<circle cx="992.9" cy="1870" r="5.2"/>
<circle cx="1006.8" cy="1863.1" r="5.2"/>
<circle cx="1016.5" cy="1843" r="5.2"/>
<circle cx="981.9" cy="1901.9" r="5.2"/>
<circle cx="990.2" cy="1901.9" r="5.2"/>
<circle cx="1013.7" cy="1901.9" r="5.2"/>
<circle cx="956.2" cy="1920.6" r="5.2"/>
<circle cx="974.9" cy="1920.6" r="5.2"/>
<circle cx="979.1" cy="1920.6" r="5.2"/>
<circle cx="1001.2" cy="1920.6" r="5.2"/>
<circle cx="1006.8" cy="1920.6" r="5.2"/>
<circle cx="1010.9" cy="1920.6" r="5.2"/>
<circle cx="1021.3" cy="1879" r="5.2"/>
<circle cx="1024.1" cy="1889.4" r="5.2"/>
<circle cx="1031" cy="1863.1" r="5.2"/>
<circle cx="1033.1" cy="1870.7" r="5.2"/>
<circle cx="1040" cy="1879" r="5.2"/>
<circle cx="1038.6" cy="1852" r="5.2"/>
<circle cx="1044.2" cy="1847.9" r="5.2"/>
<circle cx="1037.3" cy="1838.9" r="5.2"/>
<circle cx="1047.6" cy="1835.4" r="5.2"/>
<circle cx="1028.3" cy="1811.2" r="5.2"/>
<circle cx="1042.8" cy="1818.1" r="5.2"/>
<circle cx="1051.1" cy="1805" r="5.2"/>
<circle cx="1055.3" cy="1801.5" r="5.2"/>
<circle cx="1059.4" cy="1788.3" r="5.2"/>
<circle cx="1058" cy="1786.3" r="5.2"/>
<circle cx="1065" cy="1768.9" r="5.2"/>
<circle cx="1060.8" cy="1767.6" r="5.2"/>
<circle cx="1069.1" cy="1735.7" r="5.2"/>
<circle cx="1073.3" cy="1722.5" r="5.2"/>
<circle cx="1080.2" cy="1750.2" r="5.2"/>
<circle cx="1091.3" cy="1749.6" r="5.2"/>
<circle cx="1088.5" cy="1727.4" r="5.2"/>
<circle cx="1092.6" cy="1724.6" r="5.2"/>
<circle cx="1098.2" cy="1732.9" r="5.2"/>
<circle cx="1099.6" cy="1728.8" r="5.2"/>
<circle cx="1124.5" cy="1719.1" r="5.2"/>
<circle cx="1126.5" cy="1731.6" r="5.2"/>
<circle cx="1130.7" cy="1739.9" r="5.2"/>
<circle cx="1128.6" cy="1743.3" r="5.2"/>
<circle cx="1133.5" cy="1782.8" r="5.2"/>
<circle cx="1136.9" cy="1783.5" r="5.2"/>
<circle cx="1152.2" cy="1800.1" r="5.2"/>
<circle cx="1136.9" cy="1810.5" r="5.2"/>
<circle cx="1148.7" cy="1829.9" r="5.2"/>
<circle cx="1147.3" cy="1838.9" r="5.2"/>
<circle cx="1164.6" cy="1843" r="5.2"/>
<circle cx="1145.2" cy="1852" r="5.2"/>
<circle cx="1154.2" cy="1852" r="5.2"/>
<circle cx="1159.1" cy="1863.1" r="5.2"/>
<circle cx="1164.6" cy="1865.9" r="5.2"/>
<circle cx="1170.2" cy="1870" r="5.2"/>
<circle cx="1161.9" cy="1870" r="5.2"/>
<circle cx="1143.2" cy="1870.7" r="5.2"/>
<circle cx="1157" cy="1879" r="5.2"/>
<circle cx="1168.8" cy="1888.7" r="5.2"/>
<circle cx="1175.7" cy="1901.9" r="5.2"/>
<circle cx="1178.5" cy="1901.9" r="5.2"/>
<circle cx="1141.1" cy="1901.9" r="5.2"/>
<circle cx="1189.6" cy="1920.6" r="5.2"/>
<circle cx="1192.3" cy="1951.8" r="5.2"/>
<circle cx="1184" cy="1861.7" r="5.2"/>
<circle cx="1186.8" cy="1879" r="5.2"/>
<circle cx="1194.4" cy="1879" r="5.2"/>
<circle cx="1198.6" cy="1879" r="5.2"/>
<circle cx="1202" cy="1888.7" r="5.2"/>
<circle cx="1204.1" cy="1863.1" r="5.2"/>
<circle cx="1197.9" cy="1847.9" r="5.2"/>
<circle cx="1208.9" cy="1843.7" r="5.2"/>
<circle cx="1222.8" cy="1879" r="5.2"/>
<circle cx="1206.2" cy="1798.7" r="5.2"/>
<circle cx="1211.7" cy="1812.6" r="5.2"/>
<circle cx="1214.5" cy="1809.1" r="5.2"/>
<circle cx="1218.6" cy="1805" r="5.2"/>
<circle cx="1225.6" cy="1825.7" r="5.2"/>
<circle cx="1228.3" cy="1838.9" r="5.2"/>
<circle cx="1236.6" cy="1832.6" r="5.2"/>
<circle cx="1233.9" cy="1815.3" r="5.2"/>
<circle cx="1233.9" cy="1806.3" r="5.2"/>
<circle cx="1241.5" cy="1797.3" r="5.2"/>
<circle cx="1238" cy="1784.2" r="5.2"/>
<circle cx="1249.1" cy="1777.3" r="5.2"/>
<circle cx="1243.6" cy="1764.8" r="5.2"/>
<circle cx="1251.9" cy="1731.6" r="5.2"/>
<circle cx="1257.4" cy="1722.5" r="5.2"/>
<circle cx="1254.6" cy="1739.9" r="5.2"/>
<circle cx="1260.2" cy="1746.8" r="5.2"/>
<circle cx="1286.2" cy="1713.5" r="5.2"/>
<circle cx="1284.2" cy="1721.9" r="5.2"/>
<circle cx="1289" cy="1723.2" r="5.2"/>
<circle cx="1291.1" cy="1730.2" r="5.2"/>
<circle cx="1295.9" cy="1737.1" r="5.2"/>
<circle cx="1293.2" cy="1743.3" r="5.2"/>
<circle cx="1294.5" cy="1739.9" r="5.2"/>
<circle cx="1301.5" cy="1771.7" r="5.2"/>
<circle cx="1298.7" cy="1778.6" r="5.2"/>
<circle cx="1304.9" cy="1795.3" r="5.2"/>
<circle cx="1309.1" cy="1799.4" r="5.2"/>
<circle cx="1321.5" cy="1805" r="5.2"/>
<circle cx="1313.9" cy="1813.3" r="5.2"/>
<circle cx="1307.7" cy="1818.1" r="5.2"/>
<circle cx="1316.7" cy="1835.4" r="5.2"/>
<circle cx="1311.9" cy="1847.2" r="5.2"/>
<circle cx="1331.9" cy="1835.4" r="5.2"/>
<circle cx="1329.2" cy="1842.3" r="5.2"/>
<circle cx="1342.3" cy="1847.2" r="5.2"/>
<circle cx="1323.6" cy="1863.8" r="5.2"/>
<circle cx="1335.4" cy="1870.7" r="5.2"/>
<circle cx="1347.2" cy="1863.1" r="5.2"/>
<circle cx="1356.9" cy="1879" r="5.2"/>
<circle cx="1358.9" cy="1838.9" r="5.2"/>
<circle cx="1326.4" cy="1888.7" r="5.2"/>
<circle cx="1327.8" cy="1901.9" r="5.2"/>
<circle cx="1340.2" cy="1901.9" r="5.2"/>
<circle cx="1345.8" cy="1901.9" r="5.2"/>
<circle cx="1349.9" cy="1901.9" r="5.2"/>
<circle cx="1337.5" cy="1920.6" r="5.2"/>
<circle cx="1354.1" cy="1920.6" r="5.2"/>
<circle cx="1363.1" cy="1920.6" r="5.2"/>
<circle cx="1361" cy="1952.4" r="5.2"/>
<circle cx="1372.8" cy="1952.4" r="5.2"/>
<circle cx="1381.8" cy="1952.4" r="5.2"/>
<circle cx="1366.6" cy="1888.7" r="5.2"/>
<circle cx="1370.7" cy="1888.7" r="5.2"/>
<circle cx="1384.6" cy="1888.7" r="5.2"/>
<circle cx="1374.9" cy="1901.9" r="5.2"/>
<circle cx="1377.6" cy="1857.6" r="5.2"/>
<circle cx="1379" cy="1838.2" r="5.2"/>
<circle cx="1385.9" cy="1828.5" r="5.2"/>
<circle cx="1390.1" cy="1807.7" r="5.2"/>
<circle cx="1395.6" cy="1838.2" r="5.2"/>
<circle cx="1400.5" cy="1847.2" r="5.2"/>
<circle cx="1399.8" cy="1820.9" r="5.2"/>
<circle cx="1402.6" cy="1793.9" r="5.2"/>
<circle cx="1406" cy="1801.5" r="5.2"/>
<circle cx="1409.5" cy="1825.7" r="5.2"/>
<circle cx="1410.9" cy="1830.6" r="5.2"/>
<circle cx="1415" cy="1807.7" r="5.2"/>
<circle cx="1417.1" cy="1790.4" r="5.2"/>
<circle cx="1420.6" cy="1774.5" r="5.2"/>
<circle cx="1423.3" cy="1754.4" r="5.2"/>
<circle cx="1424" cy="1744" r="5.2"/>
<circle cx="1435.8" cy="1730.9" r="5.2"/>
<circle cx="1428.9" cy="1716.3" r="5.2"/>
<circle cx="1431.6" cy="1719.8" r="5.2"/>
<circle cx="1433.7" cy="1712.2" r="5.2"/>
</g>
<polyline points="225.8,1784.2 227.8,1787.7 229.8,1790.6 231.8,1793.1 233.8,1795.1 235.8,1797 237.8,1798.7 239.8,1800.3 241.8,1802.1 243.8,1804 245.8,1806.3 247.8,1809 249.8,1812.2 251.8,1816.1 253.8,1820.6 255.8,1825.7 257.8,1831.3 259.9,1837.5 261.9,1844.2 263.9,1851.3 265.9,1858.8 267.9,1866.4 269.9,1873.8 271.9,1880.7 273.9,1886.9 275.9,1891.9 277.9,1895.6 279.9,1897.8 281.9,1898.4 283.9,1897.3 285.9,1894.7 287.9,1890.8 289.9,1885.9 291.9,1880.2 293.9,1873.9 295.9,1867.2 297.9,1860.2 299.9,1853.2 301.9,1846.3 303.9,1839.7 305.9,1833.4 307.9,1827.4 309.9,1821.7 311.9,1816.2 313.9,1810.9 315.9,1805.7 317.9,1800.7 319.9,1795.8 321.9,1790.9 323.9,1786.1 326,1781.3 328,1776.7 330,1772.1 332,1767.7 334,1763.4 336,1759.2 338,1755.2 340,1751.3 342,1747.6 344,1744 346,1740.7 348,1737.5 350,1734.5 352,1731.8 354,1729.2 356,1726.9 358,1724.8" fill="none" stroke="#ec1c2c" stroke-width="6.6" stroke-linejoin="round" stroke-linecap="round"/>
<polyline points="378.4,1774.6 380.4,1776.4 382.4,1778.1 384.4,1779.7 386.4,1781.3 388.4,1782.9 390.4,1784.4 392.5,1786.1 394.5,1787.7 396.5,1789.5 398.5,1791.4 400.5,1793.4 402.5,1795.6 404.5,1798 406.5,1800.5 408.5,1803.4 410.5,1806.5 412.5,1809.9 414.5,1813.6 416.5,1817.7 418.6,1822.1 420.6,1826.8 422.6,1831.7 424.6,1836.6 426.6,1841.5 428.6,1846.3 430.6,1850.8 432.6,1855 434.6,1858.8 436.6,1862.3 438.6,1865.4 440.6,1868.2 442.6,1870.7 444.7,1872.8 446.7,1874.7 448.7,1876.3 450.7,1877.6 452.7,1878.7 454.7,1879.4 456.7,1879.9 458.7,1880.1 460.7,1879.9 462.7,1879.5 464.7,1878.7 466.7,1877.6 468.8,1876.2 470.8,1874.4 472.8,1872.3 474.8,1869.8 476.8,1867.1 478.8,1864.1 480.8,1860.8 482.8,1857.3 484.8,1853.6 486.8,1849.7 488.8,1845.7 490.8,1841.5 492.8,1837.3 494.9,1833 496.9,1828.6 498.9,1824.2 500.9,1819.8 502.9,1815.4 504.9,1811.1 506.9,1806.8 508.9,1802.7 510.9,1798.6 512.9,1794.7 514.9,1791 516.9,1787.4 518.9,1784 521,1780.7 523,1777.5 525,1774.5 527,1771.6 529,1768.8 531,1766.1 533,1763.5 535,1761.1 537,1758.7 539,1756.4 541,1754.2 543,1752 545,1750 547.1,1748 549.1,1746 551.1,1744.2 553.1,1742.3 555.1,1740.5 557.1,1738.8 559.1,1737.1" fill="none" stroke="#ec1c2c" stroke-width="6.6" stroke-linejoin="round" stroke-linecap="round"/>
<polyline points="580.7,1811.6 582.7,1812 584.7,1812.6 586.7,1813.4 588.7,1814.3 590.7,1815.5 592.8,1816.7 594.8,1818.1 596.8,1819.7 598.8,1821.4 600.8,1823.2 602.8,1825.2 604.8,1827.3 606.8,1829.5 608.8,1831.8 610.8,1834.2 612.9,1836.7 614.9,1839.3 616.9,1841.9 618.9,1844.6 620.9,1847.3 622.9,1849.9 624.9,1852.5 626.9,1855.1 628.9,1857.5 630.9,1859.9 633,1862.1 635,1864.2 637,1866.2 639,1867.9 641,1869.4 643,1870.7 645,1871.7 647,1872.4 649,1872.8 651,1872.8 653.1,1872.5 655.1,1871.8 657.1,1870.7 659.1,1869.3 661.1,1867.5 663.1,1865.3 665.1,1862.9 667.1,1860.1 669.1,1857.1 671.1,1853.8 673.1,1850.3 675.2,1846.6 677.2,1842.7 679.2,1838.6 681.2,1834.5 683.2,1830.2 685.2,1825.8 687.2,1821.4 689.2,1817 691.2,1812.6 693.2,1808.3 695.3,1804 697.3,1799.8 699.3,1795.8 701.3,1791.9 703.3,1788.1 705.3,1784.6 707.3,1781.3 709.3,1778.2 711.3,1775.3 713.3,1772.5 715.4,1769.9 717.4,1767.4 719.4,1765.1 721.4,1762.9 723.4,1760.7 725.4,1758.7 727.4,1756.8 729.4,1754.9 731.4,1753 733.4,1751.2 735.5,1749.4 737.5,1747.6 739.5,1745.8 741.5,1744 743.5,1742.2 745.5,1740.3" fill="none" stroke="#ec1c2c" stroke-width="6.6" stroke-linejoin="round" stroke-linecap="round"/>
<polyline points="768.8,1814.6 770.8,1818.3 772.8,1821.3 774.8,1823.8 776.9,1825.9 778.9,1827.7 780.9,1829.2 782.9,1830.6 784.9,1832 786.9,1833.6 788.9,1835.3 790.9,1837.3 793,1839.8 795,1842.8 797,1846.3 799,1850.5 801,1855.1 803,1859.9 805,1864.9 807,1869.8 809.1,1874.6 811.1,1878.9 813.1,1882.8 815.1,1886.1 817.1,1888.8 819.1,1891 821.1,1892.6 823.2,1893.8 825.2,1894.5 827.2,1894.8 829.2,1894.6 831.2,1894.1 833.2,1893.3 835.2,1892.1 837.2,1890.6 839.3,1888.8 841.3,1886.8 843.3,1884.5 845.3,1882.1 847.3,1879.5 849.3,1876.8 851.3,1873.9 853.4,1870.8 855.4,1867.6 857.4,1864.2 859.4,1860.7 861.4,1857 863.4,1853.2 865.4,1849.3 867.4,1845.2 869.5,1840.9 871.5,1836.6 873.5,1832.1 875.5,1827.5 877.5,1822.7 879.5,1817.8 881.5,1812.8 883.5,1807.7 885.6,1802.5 887.6,1797.2 889.6,1791.9 891.6,1786.6 893.6,1781.5 895.6,1776.7 897.6,1772.1 899.7,1768 901.7,1764.3 903.7,1761 905.7,1758.2 907.7,1755.7 909.7,1753.4 911.7,1751.2 913.7,1749.2 915.8,1747.1 917.8,1744.9 919.8,1742.6 921.8,1739.9" fill="none" stroke="#ec1c2c" stroke-width="6.6" stroke-linejoin="round" stroke-linecap="round"/>
<polyline points="943.1,1809.3 945.1,1810.3 947.1,1811.5 949.1,1812.7 951.1,1814.1 953.1,1815.7 955.1,1817.4 957.1,1819.3 959.2,1821.5 961.2,1823.8 963.2,1826.4 965.2,1829.3 967.2,1832.4 969.2,1835.8 971.2,1839.4 973.2,1843.2 975.2,1847 977.2,1850.8 979.2,1854.5 981.2,1858 983.2,1861.1 985.2,1863.9 987.2,1866.1 989.2,1868 991.3,1869.5 993.3,1870.5 995.3,1871.2 997.3,1871.6 999.3,1871.6 1001.3,1871.4 1003.3,1870.9 1005.3,1870.1 1007.3,1869 1009.3,1867.7 1011.3,1866.1 1013.3,1864.2 1015.3,1862 1017.3,1859.6 1019.3,1856.9 1021.3,1853.9 1023.4,1850.6 1025.4,1847 1027.4,1843.2 1029.4,1839.2 1031.4,1835 1033.4,1830.6 1035.4,1826.1 1037.4,1821.5 1039.4,1816.8 1041.4,1812 1043.4,1807.3 1045.4,1802.5 1047.4,1797.8 1049.4,1793.2 1051.4,1788.6 1053.5,1784.2 1055.5,1779.9 1057.5,1775.9 1059.5,1772 1061.5,1768.3 1063.5,1764.8 1065.5,1761.5 1067.5,1758.3 1069.5,1755.4 1071.5,1752.5 1073.5,1749.9 1075.5,1747.4 1077.5,1745 1079.5,1742.7 1081.5,1740.6 1083.5,1738.6 1085.6,1736.7 1087.6,1734.9 1089.6,1733.3 1091.6,1731.7 1093.6,1730.2 1095.6,1728.8 1097.6,1727.4 1099.6,1726.1" fill="none" stroke="#ec1c2c" stroke-width="6.6" stroke-linejoin="round" stroke-linecap="round"/>
<polyline points="1123.1,1790.6 1125.1,1792.5 1127.2,1794.3 1129.2,1796.2 1131.2,1798.2 1133.2,1800.2 1135.3,1802.3 1137.3,1804.6 1139.3,1807.1 1141.3,1809.8 1143.4,1812.8 1145.4,1816 1147.4,1819.6 1149.4,1823.5 1151.5,1827.6 1153.5,1832 1155.5,1836.5 1157.5,1841 1159.6,1845.4 1161.6,1849.6 1163.6,1853.6 1165.7,1857.1 1167.7,1860.3 1169.7,1863 1171.7,1865.3 1173.8,1866.9 1175.8,1868 1177.8,1868.4 1179.8,1868.1 1181.9,1867.2 1183.9,1865.7 1185.9,1864 1187.9,1862 1190,1859.9 1192,1857.6 1194,1855.2 1196.1,1852.7 1198.1,1850.1 1200.1,1847.5 1202.1,1844.7 1204.2,1841.8 1206.2,1838.9 1208.2,1835.9 1210.2,1832.8 1212.3,1829.7 1214.3,1826.5 1216.3,1823.3 1218.3,1820.1 1220.4,1816.9 1222.4,1813.6 1224.4,1810.4 1226.5,1807.1 1228.5,1803.9 1230.5,1800.6 1232.5,1797.5 1234.6,1794.3 1236.6,1791.2 1238.6,1788.1 1240.6,1785.1 1242.7,1782.2 1244.7,1779.3 1246.7,1776.5 1248.7,1773.9 1250.8,1771.3 1252.8,1768.8 1254.8,1766.4 1256.8,1764.2 1258.9,1762.1 1260.9,1760.1" fill="none" stroke="#ec1c2c" stroke-width="6.6" stroke-linejoin="round" stroke-linecap="round"/>
<polyline points="1283.5,1752.3 1285.5,1754.4 1287.5,1756.4 1289.6,1758.4 1291.6,1760.3 1293.6,1762.3 1295.6,1764.4 1297.7,1766.5 1299.7,1768.8 1301.7,1771.2 1303.7,1773.9 1305.7,1776.7 1307.8,1779.8 1309.8,1783.2 1311.8,1786.9 1313.8,1790.9 1315.9,1795.3 1317.9,1800.1 1319.9,1805.2 1321.9,1810.5 1323.9,1815.9 1326,1821.3 1328,1826.7 1330,1832 1332,1837.1 1334.1,1842 1336.1,1846.6 1338.1,1850.9 1340.1,1855 1342.1,1858.7 1344.2,1862.1 1346.2,1865.1 1348.2,1867.7 1350.2,1869.7 1352.3,1871.3 1354.3,1872.2 1356.3,1872.5 1358.3,1872 1360.3,1870.9 1362.4,1869.2 1364.4,1867 1366.4,1864.5 1368.4,1861.8 1370.5,1858.8 1372.5,1855.7 1374.5,1852.5 1376.5,1849.1 1378.6,1845.8 1380.6,1842.4 1382.6,1839 1384.6,1835.5 1386.6,1831.9 1388.7,1828.3 1390.7,1824.6 1392.7,1820.8 1394.7,1816.9 1396.8,1812.9 1398.8,1808.8 1400.8,1804.7 1402.8,1800.5 1404.8,1796.4 1406.9,1792.4 1408.9,1788.5 1410.9,1784.8 1412.9,1781.3 1415,1778 1417,1775 1419,1772.2 1421,1769.6 1423,1767.1 1425.1,1764.7 1427.1,1762.2 1429.1,1759.7 1431.1,1757 1433.2,1754.1 1435.2,1751 1437.2,1747.5" fill="none" stroke="#ec1c2c" stroke-width="6.6" stroke-linejoin="round" stroke-linecap="round"/>
<line x1="177.8" y1="1626.5" x2="177.8" y2="1965.5" stroke="#1a1a1a" stroke-width="2.4"/>
<line x1="176.6" y1="1964.3" x2="1483.5" y2="1964.3" stroke="#1a1a1a" stroke-width="2.4"/>
<line x1="163.8" y1="1952.1" x2="177.8" y2="1952.1" stroke="#1a1a1a" stroke-width="2.4"/>
<text x="148.4" y="1963.4" font-size="29.1" text-anchor="end" fill="#111">1</text>
<line x1="163.8" y1="1879.1" x2="177.8" y2="1879.1" stroke="#1a1a1a" stroke-width="2.4"/>
<text x="148.4" y="1890.4" font-size="29.1" text-anchor="end" fill="#111">5</text>
<line x1="163.8" y1="1847.6" x2="177.8" y2="1847.6" stroke="#1a1a1a" stroke-width="2.4"/>
<text x="148.4" y="1858.9" font-size="29.1" text-anchor="end" fill="#111">10</text>
<line x1="163.8" y1="1774.6" x2="177.8" y2="1774.6" stroke="#1a1a1a" stroke-width="2.4"/>
<text x="148.4" y="1785.9" font-size="29.1" text-anchor="end" fill="#111">50</text>
<line x1="163.8" y1="1743.1" x2="177.8" y2="1743.1" stroke="#1a1a1a" stroke-width="2.4"/>
<text x="148.4" y="1754.4" font-size="29.1" text-anchor="end" fill="#111">100</text>
<line x1="163.8" y1="1670.1" x2="177.8" y2="1670.1" stroke="#1a1a1a" stroke-width="2.4"/>
<text x="148.4" y="1681.4" font-size="29.1" text-anchor="end" fill="#111">500</text>
<line x1="163.8" y1="1638.6" x2="177.8" y2="1638.6" stroke="#1a1a1a" stroke-width="2.4"/>
<text x="148.4" y="1649.9" font-size="29.1" text-anchor="end" fill="#111">1000</text>
<text x="291.7" y="2016.4" font-size="24.2" text-anchor="middle" fill="#111">1H</text>
<text x="469.1" y="2016.4" font-size="24.2" text-anchor="middle" fill="#111">2H</text>
<text x="663.8" y="2016.4" font-size="24.2" text-anchor="middle" fill="#111">3H</text>
<text x="844.5" y="2016.4" font-size="24.2" text-anchor="middle" fill="#111">4H</text>
<text x="1022.5" y="2016.4" font-size="24.2" text-anchor="middle" fill="#111">5H</text>
<text x="1191.6" y="2016.4" font-size="24.2" text-anchor="middle" fill="#111">6H</text>
<text x="1360.7" y="2016.4" font-size="24.2" text-anchor="middle" fill="#111">7H</text>
<text x="831.5" y="2073.4" font-size="29.6" text-anchor="middle" fill="#111">Position in reference genome</text>
<text x="86.5" y="1796.4" font-size="29.8" text-anchor="middle" transform="rotate(-90 86.5 1796.4)" fill="#111">Number of SNPs</text>
</svg></body></html>
